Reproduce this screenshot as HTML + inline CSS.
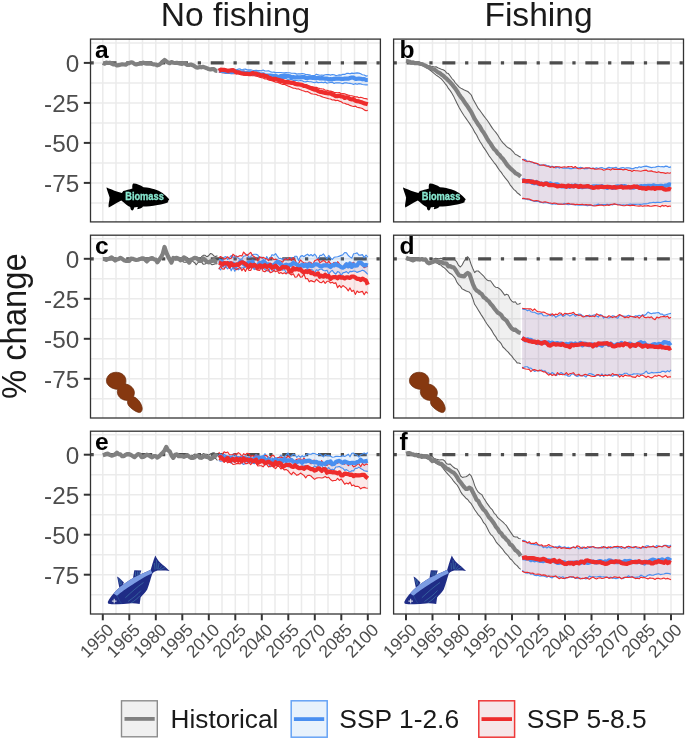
<!DOCTYPE html>
<html><head><meta charset="utf-8"><style>
html,body{margin:0;padding:0;background:#fff;}
svg{display:block;}
svg{will-change:transform;}
</style></head><body>
<svg width="685" height="739" viewBox="0 0 685 739">
<rect width="685" height="739" fill="#fff"/>
<rect x="90.5" y="39.1" width="289.9" height="182.8" fill="#fff"/>
<path d="M102.8 39.1V221.9M116 39.1V221.9M129.3 39.1V221.9M142.5 39.1V221.9M155.8 39.1V221.9M169 39.1V221.9M182.3 39.1V221.9M195.5 39.1V221.9M208.8 39.1V221.9M222 39.1V221.9M235.3 39.1V221.9M248.5 39.1V221.9M261.8 39.1V221.9M275 39.1V221.9M288.3 39.1V221.9M301.5 39.1V221.9M314.8 39.1V221.9M328 39.1V221.9M341.3 39.1V221.9M354.5 39.1V221.9M367.8 39.1V221.9M90.5 202.9H380.4M90.5 182.9H380.4M90.5 162.9H380.4M90.5 142.9H380.4M90.5 122.9H380.4M90.5 102.9H380.4M90.5 82.9H380.4M90.5 62.9H380.4M90.5 42.9H380.4" stroke="#EBEBEB" stroke-width="1.5" fill="none"/>
<path d="M90.5 62.9H380.4" stroke="#4D4D4D" stroke-width="3.25" stroke-dasharray="3.25 9.75 13 9.75" fill="none"/>
<path d="M102.8 62.9 L104.5 63.7 L106.3 62.6 L108 63 L109.8 62.7 L111.6 63.6 L113.3 64.4 L115.1 64.5 L116.9 65.5 L118.6 65.1 L120.4 64.7 L122.2 64.3 L123.9 64.5 L125.7 64.7 L127.4 63.5 L129.2 63.1 L131 62.3 L132.7 62.6 L134.5 63.9 L136.3 64.4 L138 64 L139.8 63.6 L141.6 63.7 L143.3 62.6 L145.1 63.4 L146.8 63.6 L148.6 63.5 L150.4 63.6 L152.1 63.9 L153.9 64.4 L155.7 64.5 L157.4 65.3 L159.2 64.8 L161 63.2 L162.7 61.5 L164.5 60 L166.3 61.3 L168 62.6 L169.8 63.2 L171.5 62.1 L173.3 62.7 L175.1 63 L176.8 62.8 L178.6 63.2 L180.4 63.6 L182.1 63.8 L183.9 63 L185.7 63.9 L187.4 65 L189.2 65 L190.9 64.5 L192.7 65.2 L194.5 66.2 L196.2 67.4 L198 67.6 L199.8 67 L201.5 67.3 L203.3 66.8 L205.1 67.6 L206.8 68.2 L208.6 69 L210.4 69.5 L212.1 69.1 L213.9 69.2 L215.6 70.6 L217.4 70.8" fill="none" stroke="#808080" stroke-width="4.2" stroke-linejoin="round" stroke-opacity="1"/>
<path d="M218.8 69.9 L220.6 70.1 L222.4 69 L224.1 69.4 L225.9 69.4 L227.7 70.5 L229.5 70.9 L231.2 70.4 L233 71.5 L234.8 70.8 L236.6 71.4 L238.3 71.5 L240.1 71.1 L241.9 71.8 L243.6 71.2 L245.4 71.6 L247.2 71.8 L249 72 L250.7 72.6 L252.5 71.8 L254.3 73.1 L256.1 72.3 L257.8 73.1 L259.6 73.7 L261.4 73.9 L263.1 74.5 L264.9 75 L266.7 75.2 L268.5 75.7 L270.2 76.4 L272 76.4 L273.8 77.4 L275.6 78.6 L277.3 79 L279.1 78.4 L280.9 79 L282.7 80.3 L284.4 80.2 L286.2 80.4 L288 80.7 L289.7 81.6 L291.5 81.2 L293.3 83 L295.1 82.1 L296.8 82.5 L298.6 83.2 L300.4 83.8 L302.2 84.5 L303.9 84.4 L305.7 84.8 L307.5 85.4 L309.2 86.3 L311 86.7 L312.8 86.7 L314.6 87.4 L316.3 87.4 L318.1 88.1 L319.9 88.5 L321.7 88.8 L323.4 89 L325.2 90.2 L327 90.3 L328.7 90.9 L330.5 91.1 L332.3 91.6 L334.1 92.4 L335.8 92.5 L337.6 92.8 L339.4 92.6 L341.2 93.8 L342.9 93.6 L344.7 93.9 L346.5 94.5 L348.3 95.1 L350 95.5 L351.8 95.8 L353.6 96.3 L355.3 96.9 L357.1 96.7 L358.9 97.7 L360.7 97.3 L362.4 97.7 L364.2 98.5 L366 98.6 L367.8 99.2 L367.8 110.4 L366 110.7 L364.2 109.9 L362.4 108.5 L360.7 108 L358.9 107.6 L357.1 107.3 L355.3 106.1 L353.6 106.5 L351.8 106 L350 105.4 L348.3 104.4 L346.5 104.1 L344.7 103.3 L342.9 103 L341.2 101.7 L339.4 101.1 L337.6 100.3 L335.8 100.6 L334.1 99.9 L332.3 100 L330.5 99 L328.7 98.8 L327 98.2 L325.2 97.7 L323.4 97.2 L321.7 96.6 L319.9 95.8 L318.1 95.5 L316.3 94.5 L314.6 94.2 L312.8 94 L311 93.6 L309.2 92.4 L307.5 91.6 L305.7 91.8 L303.9 91 L302.2 90.5 L300.4 89.8 L298.6 88.9 L296.8 89 L295.1 88.3 L293.3 88.1 L291.5 87.5 L289.7 86.6 L288 86 L286.2 85.2 L284.4 84.3 L282.7 84.4 L280.9 83.7 L279.1 82.9 L277.3 82.2 L275.6 82.1 L273.8 81.4 L272 80.4 L270.2 80.4 L268.5 79.9 L266.7 79 L264.9 78.9 L263.1 77.9 L261.4 77.7 L259.6 77.3 L257.8 76.4 L256.1 76.1 L254.3 75.6 L252.5 75.8 L250.7 75.1 L249 74.9 L247.2 74.6 L245.4 74.7 L243.6 75.2 L241.9 74.3 L240.1 74.2 L238.3 73 L236.6 73.2 L234.8 73.6 L233 73.7 L231.2 73.3 L229.5 73 L227.7 73.1 L225.9 73.3 L224.1 73 L222.4 72.8 L220.6 72.2 L218.8 72.3Z" fill="#EE2C2C" fill-opacity="0.1" stroke="none"/>
<path d="M218.8 69.4 L220.6 68.9 L222.4 69.4 L224.1 68.7 L225.9 69.8 L227.7 69.8 L229.5 69.9 L231.2 68.9 L233 69.1 L234.8 69.6 L236.6 69.9 L238.3 69 L240.1 68.9 L241.9 70 L243.6 69.3 L245.4 69.1 L247.2 69.9 L249 69.8 L250.7 69.8 L252.5 70.3 L254.3 70.6 L256.1 70.2 L257.8 70.5 L259.6 70.6 L261.4 70.7 L263.1 70 L264.9 71 L266.7 71 L268.5 70.8 L270.2 71.6 L272 72.2 L273.8 72.1 L275.6 72.6 L277.3 72.5 L279.1 72.5 L280.9 72.5 L282.7 72.8 L284.4 72.9 L286.2 72.6 L288 72.7 L289.7 72.7 L291.5 73.3 L293.3 73.2 L295.1 73.4 L296.8 74.1 L298.6 73.7 L300.4 73.9 L302.2 73.5 L303.9 73.7 L305.7 74.6 L307.5 74.6 L309.2 74.8 L311 75.3 L312.8 75.5 L314.6 75.6 L316.3 74.2 L318.1 74.7 L319.9 75.3 L321.7 75 L323.4 75.4 L325.2 74.8 L327 74.6 L328.7 74.5 L330.5 75.1 L332.3 74.5 L334.1 74.7 L335.8 75.6 L337.6 75.3 L339.4 74.9 L341.2 75.1 L342.9 74.2 L344.7 74.4 L346.5 73.4 L348.3 73.3 L350 73.8 L351.8 73.1 L353.6 73.4 L355.3 73.1 L357.1 72.9 L358.9 73.1 L360.7 73.8 L362.4 74.7 L364.2 75 L366 76.1 L367.8 75.8 L367.8 84.9 L366 84.9 L364.2 84.8 L362.4 84.5 L360.7 83.9 L358.9 83.6 L357.1 84.3 L355.3 83.6 L353.6 84.4 L351.8 83.8 L350 83.4 L348.3 83.3 L346.5 82.9 L344.7 82.8 L342.9 83.6 L341.2 83.3 L339.4 82.8 L337.6 82.8 L335.8 82.8 L334.1 83.5 L332.3 82.3 L330.5 82.5 L328.7 82.8 L327 83.2 L325.2 82.1 L323.4 82.8 L321.7 82.2 L319.9 82.5 L318.1 82.6 L316.3 81.9 L314.6 82.7 L312.8 82.2 L311 81.8 L309.2 81.7 L307.5 81.3 L305.7 81.9 L303.9 81.8 L302.2 80.7 L300.4 80.5 L298.6 81 L296.8 80.5 L295.1 80.4 L293.3 80.6 L291.5 79.3 L289.7 79.8 L288 79.5 L286.2 78.5 L284.4 78.5 L282.7 78.1 L280.9 78.5 L279.1 77.8 L277.3 77.8 L275.6 77.4 L273.8 76.4 L272 76.7 L270.2 76.1 L268.5 76.2 L266.7 76 L264.9 76.1 L263.1 75.6 L261.4 75.8 L259.6 75.2 L257.8 74.7 L256.1 74.6 L254.3 74.7 L252.5 74.9 L250.7 74 L249 74.4 L247.2 74.5 L245.4 74.4 L243.6 74 L241.9 73.6 L240.1 73.7 L238.3 73.4 L236.6 73.2 L234.8 73.2 L233 73.5 L231.2 73 L229.5 73.3 L227.7 73.1 L225.9 72.7 L224.1 72.1 L222.4 71.8 L220.6 72.2 L218.8 72.1Z" fill="#4A8FF0" fill-opacity="0.13" stroke="none"/>
<path d="M218.8 69.4 L220.6 68.9 L222.4 69.4 L224.1 68.7 L225.9 69.8 L227.7 69.8 L229.5 69.9 L231.2 68.9 L233 69.1 L234.8 69.6 L236.6 69.9 L238.3 69 L240.1 68.9 L241.9 70 L243.6 69.3 L245.4 69.1 L247.2 69.9 L249 69.8 L250.7 69.8 L252.5 70.3 L254.3 70.6 L256.1 70.2 L257.8 70.5 L259.6 70.6 L261.4 70.7 L263.1 70 L264.9 71 L266.7 71 L268.5 70.8 L270.2 71.6 L272 72.2 L273.8 72.1 L275.6 72.6 L277.3 72.5 L279.1 72.5 L280.9 72.5 L282.7 72.8 L284.4 72.9 L286.2 72.6 L288 72.7 L289.7 72.7 L291.5 73.3 L293.3 73.2 L295.1 73.4 L296.8 74.1 L298.6 73.7 L300.4 73.9 L302.2 73.5 L303.9 73.7 L305.7 74.6 L307.5 74.6 L309.2 74.8 L311 75.3 L312.8 75.5 L314.6 75.6 L316.3 74.2 L318.1 74.7 L319.9 75.3 L321.7 75 L323.4 75.4 L325.2 74.8 L327 74.6 L328.7 74.5 L330.5 75.1 L332.3 74.5 L334.1 74.7 L335.8 75.6 L337.6 75.3 L339.4 74.9 L341.2 75.1 L342.9 74.2 L344.7 74.4 L346.5 73.4 L348.3 73.3 L350 73.8 L351.8 73.1 L353.6 73.4 L355.3 73.1 L357.1 72.9 L358.9 73.1 L360.7 73.8 L362.4 74.7 L364.2 75 L366 76.1 L367.8 75.8" fill="none" stroke="#4A8FF0" stroke-width="1.15" stroke-linejoin="round" stroke-opacity="1"/>
<path d="M218.8 72.1 L220.6 72.2 L222.4 71.8 L224.1 72.1 L225.9 72.7 L227.7 73.1 L229.5 73.3 L231.2 73 L233 73.5 L234.8 73.2 L236.6 73.2 L238.3 73.4 L240.1 73.7 L241.9 73.6 L243.6 74 L245.4 74.4 L247.2 74.5 L249 74.4 L250.7 74 L252.5 74.9 L254.3 74.7 L256.1 74.6 L257.8 74.7 L259.6 75.2 L261.4 75.8 L263.1 75.6 L264.9 76.1 L266.7 76 L268.5 76.2 L270.2 76.1 L272 76.7 L273.8 76.4 L275.6 77.4 L277.3 77.8 L279.1 77.8 L280.9 78.5 L282.7 78.1 L284.4 78.5 L286.2 78.5 L288 79.5 L289.7 79.8 L291.5 79.3 L293.3 80.6 L295.1 80.4 L296.8 80.5 L298.6 81 L300.4 80.5 L302.2 80.7 L303.9 81.8 L305.7 81.9 L307.5 81.3 L309.2 81.7 L311 81.8 L312.8 82.2 L314.6 82.7 L316.3 81.9 L318.1 82.6 L319.9 82.5 L321.7 82.2 L323.4 82.8 L325.2 82.1 L327 83.2 L328.7 82.8 L330.5 82.5 L332.3 82.3 L334.1 83.5 L335.8 82.8 L337.6 82.8 L339.4 82.8 L341.2 83.3 L342.9 83.6 L344.7 82.8 L346.5 82.9 L348.3 83.3 L350 83.4 L351.8 83.8 L353.6 84.4 L355.3 83.6 L357.1 84.3 L358.9 83.6 L360.7 83.9 L362.4 84.5 L364.2 84.8 L366 84.9 L367.8 84.9" fill="none" stroke="#4A8FF0" stroke-width="1.15" stroke-linejoin="round" stroke-opacity="1"/>
<path d="M218.8 69.9 L220.6 70.1 L222.4 69 L224.1 69.4 L225.9 69.4 L227.7 70.5 L229.5 70.9 L231.2 70.4 L233 71.5 L234.8 70.8 L236.6 71.4 L238.3 71.5 L240.1 71.1 L241.9 71.8 L243.6 71.2 L245.4 71.6 L247.2 71.8 L249 72 L250.7 72.6 L252.5 71.8 L254.3 73.1 L256.1 72.3 L257.8 73.1 L259.6 73.7 L261.4 73.9 L263.1 74.5 L264.9 75 L266.7 75.2 L268.5 75.7 L270.2 76.4 L272 76.4 L273.8 77.4 L275.6 78.6 L277.3 79 L279.1 78.4 L280.9 79 L282.7 80.3 L284.4 80.2 L286.2 80.4 L288 80.7 L289.7 81.6 L291.5 81.2 L293.3 83 L295.1 82.1 L296.8 82.5 L298.6 83.2 L300.4 83.8 L302.2 84.5 L303.9 84.4 L305.7 84.8 L307.5 85.4 L309.2 86.3 L311 86.7 L312.8 86.7 L314.6 87.4 L316.3 87.4 L318.1 88.1 L319.9 88.5 L321.7 88.8 L323.4 89 L325.2 90.2 L327 90.3 L328.7 90.9 L330.5 91.1 L332.3 91.6 L334.1 92.4 L335.8 92.5 L337.6 92.8 L339.4 92.6 L341.2 93.8 L342.9 93.6 L344.7 93.9 L346.5 94.5 L348.3 95.1 L350 95.5 L351.8 95.8 L353.6 96.3 L355.3 96.9 L357.1 96.7 L358.9 97.7 L360.7 97.3 L362.4 97.7 L364.2 98.5 L366 98.6 L367.8 99.2" fill="none" stroke="#EE2C2C" stroke-width="1.15" stroke-linejoin="round" stroke-opacity="1"/>
<path d="M218.8 72.3 L220.6 72.2 L222.4 72.8 L224.1 73 L225.9 73.3 L227.7 73.1 L229.5 73 L231.2 73.3 L233 73.7 L234.8 73.6 L236.6 73.2 L238.3 73 L240.1 74.2 L241.9 74.3 L243.6 75.2 L245.4 74.7 L247.2 74.6 L249 74.9 L250.7 75.1 L252.5 75.8 L254.3 75.6 L256.1 76.1 L257.8 76.4 L259.6 77.3 L261.4 77.7 L263.1 77.9 L264.9 78.9 L266.7 79 L268.5 79.9 L270.2 80.4 L272 80.4 L273.8 81.4 L275.6 82.1 L277.3 82.2 L279.1 82.9 L280.9 83.7 L282.7 84.4 L284.4 84.3 L286.2 85.2 L288 86 L289.7 86.6 L291.5 87.5 L293.3 88.1 L295.1 88.3 L296.8 89 L298.6 88.9 L300.4 89.8 L302.2 90.5 L303.9 91 L305.7 91.8 L307.5 91.6 L309.2 92.4 L311 93.6 L312.8 94 L314.6 94.2 L316.3 94.5 L318.1 95.5 L319.9 95.8 L321.7 96.6 L323.4 97.2 L325.2 97.7 L327 98.2 L328.7 98.8 L330.5 99 L332.3 100 L334.1 99.9 L335.8 100.6 L337.6 100.3 L339.4 101.1 L341.2 101.7 L342.9 103 L344.7 103.3 L346.5 104.1 L348.3 104.4 L350 105.4 L351.8 106 L353.6 106.5 L355.3 106.1 L357.1 107.3 L358.9 107.6 L360.7 108 L362.4 108.5 L364.2 109.9 L366 110.7 L367.8 110.4" fill="none" stroke="#EE2C2C" stroke-width="1.15" stroke-linejoin="round" stroke-opacity="1"/>
<path d="M218.8 70.5 L220.6 70.2 L222.4 71.2 L224.1 70.9 L225.9 71.8 L227.7 71.6 L229.5 71.3 L231.2 72.3 L233 72 L234.8 71.5 L236.6 71.5 L238.3 72.1 L240.1 72.5 L241.9 72.6 L243.6 72.4 L245.4 73.2 L247.2 73.4 L249 72.5 L250.7 72.8 L252.5 73.4 L254.3 73.3 L256.1 73.6 L257.8 73.3 L259.6 74.5 L261.4 74.5 L263.1 74.4 L264.9 75.4 L266.7 75.7 L268.5 75.5 L270.2 75.5 L272 75.8 L273.8 76.3 L275.6 75.9 L277.3 76.5 L279.1 76.8 L280.9 76 L282.7 75.8 L284.4 75.7 L286.2 75.8 L288 76 L289.7 76.4 L291.5 77.5 L293.3 77.1 L295.1 77.5 L296.8 77.2 L298.6 77.3 L300.4 77.3 L302.2 77.1 L303.9 77 L305.7 77.9 L307.5 78.2 L309.2 77.4 L311 77.6 L312.8 77.8 L314.6 77.9 L316.3 78.3 L318.1 77.8 L319.9 78.4 L321.7 78.1 L323.4 78.4 L325.2 78.6 L327 78.6 L328.7 79.4 L330.5 79.2 L332.3 79.3 L334.1 78.8 L335.8 78.6 L337.6 78.6 L339.4 78.7 L341.2 78.8 L342.9 79 L344.7 78.6 L346.5 78.7 L348.3 78.7 L350 78.1 L351.8 77.5 L353.6 77.7 L355.3 78.8 L357.1 78.8 L358.9 78.5 L360.7 78.8 L362.4 79.3 L364.2 79 L366 80 L367.8 80" fill="none" stroke="#4A8FF0" stroke-width="4.2" stroke-linejoin="round" stroke-opacity="1"/>
<path d="M218.8 70.8 L220.6 69.7 L222.4 69.8 L224.1 69.9 L225.9 70.2 L227.7 70.9 L229.5 70.5 L231.2 70.3 L233 70.1 L234.8 71.2 L236.6 72.6 L238.3 72.3 L240.1 73 L241.9 73.4 L243.6 73.5 L245.4 74 L247.2 73.8 L249 74.1 L250.7 74.1 L252.5 73 L254.3 73.7 L256.1 73.7 L257.8 74.3 L259.6 74.7 L261.4 75.6 L263.1 75.2 L264.9 76.2 L266.7 76.2 L268.5 77.7 L270.2 78 L272 79.2 L273.8 78.9 L275.6 78.9 L277.3 79.6 L279.1 80 L280.9 81.1 L282.7 80.8 L284.4 82.1 L286.2 82.5 L288 82.1 L289.7 82.5 L291.5 83 L293.3 82.9 L295.1 83.9 L296.8 84.3 L298.6 84.3 L300.4 84.6 L302.2 84.9 L303.9 86 L305.7 86 L307.5 86.8 L309.2 87.5 L311 88.2 L312.8 89.1 L314.6 89.7 L316.3 89.9 L318.1 91.1 L319.9 91.8 L321.7 91.9 L323.4 92.5 L325.2 92.9 L327 93.2 L328.7 93.5 L330.5 93.4 L332.3 94.5 L334.1 95.1 L335.8 96.1 L337.6 96.1 L339.4 95.8 L341.2 96.5 L342.9 96.6 L344.7 98 L346.5 97.3 L348.3 97.8 L350 98.9 L351.8 99.4 L353.6 99.2 L355.3 100.8 L357.1 101.2 L358.9 101.4 L360.7 102.1 L362.4 102.6 L364.2 103.4 L366 103.7 L367.8 104.3" fill="none" stroke="#EE2C2C" stroke-width="4.2" stroke-linejoin="round" stroke-opacity="1"/>
<rect x="393.6" y="39.1" width="289.9" height="182.8" fill="#fff"/>
<path d="M406 39.1V221.9M419.3 39.1V221.9M432.5 39.1V221.9M445.8 39.1V221.9M459 39.1V221.9M472.3 39.1V221.9M485.5 39.1V221.9M498.8 39.1V221.9M512 39.1V221.9M525.3 39.1V221.9M538.5 39.1V221.9M551.8 39.1V221.9M565 39.1V221.9M578.3 39.1V221.9M591.5 39.1V221.9M604.8 39.1V221.9M618 39.1V221.9M631.3 39.1V221.9M644.5 39.1V221.9M657.8 39.1V221.9M671 39.1V221.9M393.6 202.9H683.5M393.6 182.9H683.5M393.6 162.9H683.5M393.6 142.9H683.5M393.6 122.9H683.5M393.6 102.9H683.5M393.6 82.9H683.5M393.6 62.9H683.5M393.6 42.9H683.5" stroke="#EBEBEB" stroke-width="1.5" fill="none"/>
<path d="M393.6 62.9H683.5" stroke="#4D4D4D" stroke-width="3.25" stroke-dasharray="3.25 9.75 13 9.75" fill="none"/>
<path d="M406.1 61.1 L407.9 61.9 L409.6 62.1 L411.4 62.2 L413.1 62.3 L414.9 63.3 L416.7 63.2 L418.4 63.9 L420.2 64 L422 65 L423.7 65 L425.5 65.3 L427.2 65.5 L429 65.8 L430.8 66.2 L432.5 66.4 L434.3 67 L436.1 66.8 L437.8 67.8 L439.6 68.4 L441.3 69.3 L443.1 69.7 L444.9 70.7 L446.6 72.9 L448.4 73.6 L450.2 76 L451.9 78.5 L453.7 80.3 L455.4 83 L457.2 84.8 L459 86.8 L460.7 88.1 L462.5 89 L464.3 90.1 L466 90.7 L467.8 91.5 L469.5 93.1 L471.3 95 L473.1 99.2 L474.8 102.3 L476.6 105.5 L478.4 108.7 L480.1 110.7 L481.9 113.2 L483.6 115.6 L485.4 118 L487.2 120.3 L488.9 122.8 L490.7 125.6 L492.5 128.4 L494.2 130.5 L496 132.6 L497.7 135 L499.5 138 L501.3 140.7 L503 142.9 L504.8 144.7 L506.6 146.6 L508.3 147.7 L510.1 148.7 L511.8 150.3 L513.6 152.2 L515.4 154.5 L517.1 155.1 L518.9 156.3 L520.7 157.3 L520.7 195.7 L518.9 194 L517.1 192.7 L515.4 190.7 L513.6 189.3 L511.8 186.9 L510.1 184.8 L508.3 181.7 L506.6 179.6 L504.8 177.4 L503 175 L501.3 172.4 L499.5 170.3 L497.7 167.6 L496 164.9 L494.2 162.8 L492.5 160.5 L490.7 158 L488.9 155.6 L487.2 152.7 L485.4 149.9 L483.6 147.4 L481.9 144.5 L480.1 141.8 L478.4 138.8 L476.6 135 L474.8 132.4 L473.1 129 L471.3 126.3 L469.5 123.4 L467.8 121 L466 118.4 L464.3 116 L462.5 113.2 L460.7 110.3 L459 107.2 L457.2 103.7 L455.4 100.1 L453.7 96.4 L451.9 93.3 L450.2 90.6 L448.4 88.4 L446.6 85.3 L444.9 83.3 L443.1 81 L441.3 78.9 L439.6 77.6 L437.8 76.2 L436.1 75.1 L434.3 73.7 L432.5 72.2 L430.8 70.7 L429 69.4 L427.2 68.4 L425.5 67.3 L423.7 66 L422 65.2 L420.2 64.4 L418.4 64 L416.7 63.2 L414.9 62.9 L413.1 62.8 L411.4 62.3 L409.6 61.9 L407.9 62 L406.1 61.7Z" fill="#808080" fill-opacity="0.12" stroke="none"/>
<path d="M406.1 61.1 L407.9 61.9 L409.6 62.1 L411.4 62.2 L413.1 62.3 L414.9 63.3 L416.7 63.2 L418.4 63.9 L420.2 64 L422 65 L423.7 65 L425.5 65.3 L427.2 65.5 L429 65.8 L430.8 66.2 L432.5 66.4 L434.3 67 L436.1 66.8 L437.8 67.8 L439.6 68.4 L441.3 69.3 L443.1 69.7 L444.9 70.7 L446.6 72.9 L448.4 73.6 L450.2 76 L451.9 78.5 L453.7 80.3 L455.4 83 L457.2 84.8 L459 86.8 L460.7 88.1 L462.5 89 L464.3 90.1 L466 90.7 L467.8 91.5 L469.5 93.1 L471.3 95 L473.1 99.2 L474.8 102.3 L476.6 105.5 L478.4 108.7 L480.1 110.7 L481.9 113.2 L483.6 115.6 L485.4 118 L487.2 120.3 L488.9 122.8 L490.7 125.6 L492.5 128.4 L494.2 130.5 L496 132.6 L497.7 135 L499.5 138 L501.3 140.7 L503 142.9 L504.8 144.7 L506.6 146.6 L508.3 147.7 L510.1 148.7 L511.8 150.3 L513.6 152.2 L515.4 154.5 L517.1 155.1 L518.9 156.3 L520.7 157.3" fill="none" stroke="#5E5E5E" stroke-width="1.05" stroke-linejoin="round" stroke-opacity="1"/>
<path d="M406.1 61.7 L407.9 62 L409.6 61.9 L411.4 62.3 L413.1 62.8 L414.9 62.9 L416.7 63.2 L418.4 64 L420.2 64.4 L422 65.2 L423.7 66 L425.5 67.3 L427.2 68.4 L429 69.4 L430.8 70.7 L432.5 72.2 L434.3 73.7 L436.1 75.1 L437.8 76.2 L439.6 77.6 L441.3 78.9 L443.1 81 L444.9 83.3 L446.6 85.3 L448.4 88.4 L450.2 90.6 L451.9 93.3 L453.7 96.4 L455.4 100.1 L457.2 103.7 L459 107.2 L460.7 110.3 L462.5 113.2 L464.3 116 L466 118.4 L467.8 121 L469.5 123.4 L471.3 126.3 L473.1 129 L474.8 132.4 L476.6 135 L478.4 138.8 L480.1 141.8 L481.9 144.5 L483.6 147.4 L485.4 149.9 L487.2 152.7 L488.9 155.6 L490.7 158 L492.5 160.5 L494.2 162.8 L496 164.9 L497.7 167.6 L499.5 170.3 L501.3 172.4 L503 175 L504.8 177.4 L506.6 179.6 L508.3 181.7 L510.1 184.8 L511.8 186.9 L513.6 189.3 L515.4 190.7 L517.1 192.7 L518.9 194 L520.7 195.7" fill="none" stroke="#5E5E5E" stroke-width="1.05" stroke-linejoin="round" stroke-opacity="1"/>
<path d="M406 60.9 L407.8 61.2 L409.5 61.7 L411.3 62.7 L413.1 62.4 L414.8 63.2 L416.6 63.1 L418.3 63.2 L420.1 63.8 L421.9 64 L423.6 64.9 L425.4 65.7 L427.2 66.6 L428.9 67.3 L430.7 67.7 L432.5 69.3 L434.2 69.5 L436 70.7 L437.8 72.3 L439.5 72.9 L441.3 74.4 L443 75.5 L444.8 77.3 L446.6 78.7 L448.3 80.4 L450.1 82.3 L451.9 84.2 L453.6 86.4 L455.4 88.6 L457.2 91.4 L458.9 94.2 L460.7 96.8 L462.4 98.8 L464.2 101.6 L466 104.3 L467.7 106.6 L469.5 109.4 L471.3 112.1 L473 115.6 L474.8 119.2 L476.6 121.9 L478.3 124.7 L480.1 126.9 L481.9 130.3 L483.6 132.5 L485.4 135.5 L487.1 138.5 L488.9 141.5 L490.7 143.8 L492.4 146.6 L494.2 149.2 L496 150.8 L497.7 153.4 L499.5 154.8 L501.3 157.4 L503 158.9 L504.8 161.4 L506.5 164.1 L508.3 166.3 L510.1 168.1 L511.8 169.6 L513.6 171.2 L515.4 173.2 L517.1 173.9 L518.9 175.1 L520.7 176.6" fill="none" stroke="#808080" stroke-width="4.2" stroke-linejoin="round" stroke-opacity="1"/>
<path d="M522.1 159.3 L523.8 160 L525.6 161.1 L527.4 161.2 L529.2 161.3 L530.9 161.8 L532.7 162.3 L534.5 162.9 L536.3 163.4 L538 163.8 L539.8 165.1 L541.6 165.2 L543.3 164.9 L545.1 165.6 L546.9 166.2 L548.7 166.4 L550.4 167.4 L552.2 166.5 L554 167.7 L555.8 166.6 L557.5 166.7 L559.3 166.7 L561.1 167.6 L562.9 167 L564.6 166.8 L566.4 167.2 L568.2 166.6 L569.9 166.8 L571.7 166.6 L573.5 167.8 L575.3 166.5 L577 168.1 L578.8 168.7 L580.6 168.6 L582.4 168 L584.1 168.3 L585.9 167.8 L587.7 167.8 L589.4 168 L591.2 168.7 L593 168.4 L594.8 169.1 L596.5 169.2 L598.3 168.9 L600.1 169 L601.9 169.3 L603.6 170.2 L605.4 169.8 L607.2 169 L608.9 169.2 L610.7 170.1 L612.5 168.6 L614.3 169.4 L616 169.1 L617.8 169.5 L619.6 169.4 L621.4 169.3 L623.1 169.9 L624.9 169.4 L626.7 169.5 L628.5 170.4 L630.2 170.3 L632 171.4 L633.8 170.3 L635.5 170.7 L637.3 170.8 L639.1 171 L640.9 171.2 L642.6 170.7 L644.4 170.4 L646.2 170.1 L648 171.3 L649.7 171.1 L651.5 170.9 L653.3 171.7 L655 171.9 L656.8 172.5 L658.6 171.7 L660.4 172.6 L662.1 172.5 L663.9 172.9 L665.7 173.4 L667.5 172.8 L669.2 173.3 L671 172.8 L671 206.3 L669.2 206.1 L667.5 206.6 L665.7 205.5 L663.9 206.1 L662.1 205.4 L660.4 206.8 L658.6 206.3 L656.8 205.8 L655 205.6 L653.3 205.9 L651.5 206.3 L649.7 206.1 L648 205.6 L646.2 206 L644.4 205.9 L642.6 206.3 L640.9 205.7 L639.1 206.1 L637.3 206 L635.5 205.8 L633.8 205.4 L632 205.1 L630.2 205.6 L628.5 205.5 L626.7 205 L624.9 205.7 L623.1 205.7 L621.4 205.2 L619.6 205 L617.8 205 L616 204.2 L614.3 203.9 L612.5 204.2 L610.7 204.6 L608.9 205.5 L607.2 204.9 L605.4 205.5 L603.6 205.7 L601.9 205 L600.1 205.1 L598.3 205.4 L596.5 205.6 L594.8 206 L593 205.8 L591.2 204.9 L589.4 204.8 L587.7 204.9 L585.9 204.5 L584.1 205 L582.4 204.3 L580.6 204.5 L578.8 204.5 L577 204.3 L575.3 204.6 L573.5 204.1 L571.7 204.1 L569.9 203.8 L568.2 203.4 L566.4 203.7 L564.6 204.2 L562.9 204.2 L561.1 204 L559.3 204.1 L557.5 204.1 L555.8 203.2 L554 203.1 L552.2 203.5 L550.4 203 L548.7 202.8 L546.9 202.2 L545.1 201.8 L543.3 202.1 L541.6 202.2 L539.8 201.5 L538 200.7 L536.3 200.5 L534.5 200.9 L532.7 200.6 L530.9 199.7 L529.2 199.1 L527.4 198.9 L525.6 199 L523.8 198.2 L522.1 198.6Z" fill="#EE2C2C" fill-opacity="0.1" stroke="none"/>
<path d="M522.1 159.9 L523.8 159.4 L525.6 159.6 L527.4 161.7 L529.2 161.3 L530.9 161.9 L532.7 162.2 L534.5 163.5 L536.3 163.2 L538 164.9 L539.8 165.1 L541.6 164.8 L543.3 165.3 L545.1 164.7 L546.9 165.6 L548.7 165.9 L550.4 166.6 L552.2 166.4 L554 166.7 L555.8 168 L557.5 166.9 L559.3 168.1 L561.1 167.3 L562.9 168.2 L564.6 167.9 L566.4 168.3 L568.2 167.9 L569.9 168.6 L571.7 168.6 L573.5 168.1 L575.3 168.2 L577 167.9 L578.8 167.9 L580.6 167.4 L582.4 167.7 L584.1 168.9 L585.9 168.4 L587.7 168.6 L589.4 167.8 L591.2 168.5 L593 168.1 L594.8 168.6 L596.5 167.9 L598.3 168.5 L600.1 167.8 L601.9 167.5 L603.6 168.2 L605.4 168.7 L607.2 168.1 L608.9 167.4 L610.7 167.9 L612.5 167.9 L614.3 167.9 L616 167.2 L617.8 168.6 L619.6 168.4 L621.4 167.9 L623.1 167.5 L624.9 168.3 L626.7 167.7 L628.5 167.9 L630.2 168.1 L632 168.9 L633.8 168.4 L635.5 167.5 L637.3 167.9 L639.1 166.8 L640.9 167.4 L642.6 166.7 L644.4 166.4 L646.2 166.1 L648 166.6 L649.7 167.1 L651.5 167.6 L653.3 167.2 L655 167.3 L656.8 166.6 L658.6 166.2 L660.4 166.7 L662.1 166.6 L663.9 166.9 L665.7 166.1 L667.5 166.4 L669.2 167.4 L671 166.9 L671 201 L669.2 201.5 L667.5 201.5 L665.7 201.1 L663.9 201.5 L662.1 202 L660.4 202.5 L658.6 202.3 L656.8 202.4 L655 202.6 L653.3 202.3 L651.5 202.7 L649.7 202.9 L648 203.5 L646.2 203.9 L644.4 203.7 L642.6 204.1 L640.9 204.3 L639.1 204.3 L637.3 204.2 L635.5 204.4 L633.8 204.2 L632 204.4 L630.2 204 L628.5 204.6 L626.7 205 L624.9 205 L623.1 204.9 L621.4 205.2 L619.6 204.5 L617.8 204.2 L616 204.5 L614.3 204.1 L612.5 205 L610.7 204.4 L608.9 204.6 L607.2 204.3 L605.4 204.5 L603.6 204.6 L601.9 204.6 L600.1 204.7 L598.3 204.1 L596.5 204.7 L594.8 205.1 L593 205.6 L591.2 205.4 L589.4 205.1 L587.7 205.8 L585.9 205.4 L584.1 204.7 L582.4 205.1 L580.6 205 L578.8 205.2 L577 205 L575.3 205 L573.5 204.6 L571.7 204.4 L569.9 204.5 L568.2 204.7 L566.4 204.2 L564.6 203.4 L562.9 204.1 L561.1 204.3 L559.3 204.2 L557.5 203.8 L555.8 204.2 L554 203.7 L552.2 204.3 L550.4 203.7 L548.7 203.3 L546.9 202.7 L545.1 202.5 L543.3 203 L541.6 202.3 L539.8 202.3 L538 201.2 L536.3 201.5 L534.5 201.5 L532.7 200.7 L530.9 200.4 L529.2 199.8 L527.4 199.6 L525.6 198.7 L523.8 199 L522.1 198.4Z" fill="#4A8FF0" fill-opacity="0.13" stroke="none"/>
<path d="M522.1 159.9 L523.8 159.4 L525.6 159.6 L527.4 161.7 L529.2 161.3 L530.9 161.9 L532.7 162.2 L534.5 163.5 L536.3 163.2 L538 164.9 L539.8 165.1 L541.6 164.8 L543.3 165.3 L545.1 164.7 L546.9 165.6 L548.7 165.9 L550.4 166.6 L552.2 166.4 L554 166.7 L555.8 168 L557.5 166.9 L559.3 168.1 L561.1 167.3 L562.9 168.2 L564.6 167.9 L566.4 168.3 L568.2 167.9 L569.9 168.6 L571.7 168.6 L573.5 168.1 L575.3 168.2 L577 167.9 L578.8 167.9 L580.6 167.4 L582.4 167.7 L584.1 168.9 L585.9 168.4 L587.7 168.6 L589.4 167.8 L591.2 168.5 L593 168.1 L594.8 168.6 L596.5 167.9 L598.3 168.5 L600.1 167.8 L601.9 167.5 L603.6 168.2 L605.4 168.7 L607.2 168.1 L608.9 167.4 L610.7 167.9 L612.5 167.9 L614.3 167.9 L616 167.2 L617.8 168.6 L619.6 168.4 L621.4 167.9 L623.1 167.5 L624.9 168.3 L626.7 167.7 L628.5 167.9 L630.2 168.1 L632 168.9 L633.8 168.4 L635.5 167.5 L637.3 167.9 L639.1 166.8 L640.9 167.4 L642.6 166.7 L644.4 166.4 L646.2 166.1 L648 166.6 L649.7 167.1 L651.5 167.6 L653.3 167.2 L655 167.3 L656.8 166.6 L658.6 166.2 L660.4 166.7 L662.1 166.6 L663.9 166.9 L665.7 166.1 L667.5 166.4 L669.2 167.4 L671 166.9" fill="none" stroke="#4A8FF0" stroke-width="1.15" stroke-linejoin="round" stroke-opacity="1"/>
<path d="M522.1 198.4 L523.8 199 L525.6 198.7 L527.4 199.6 L529.2 199.8 L530.9 200.4 L532.7 200.7 L534.5 201.5 L536.3 201.5 L538 201.2 L539.8 202.3 L541.6 202.3 L543.3 203 L545.1 202.5 L546.9 202.7 L548.7 203.3 L550.4 203.7 L552.2 204.3 L554 203.7 L555.8 204.2 L557.5 203.8 L559.3 204.2 L561.1 204.3 L562.9 204.1 L564.6 203.4 L566.4 204.2 L568.2 204.7 L569.9 204.5 L571.7 204.4 L573.5 204.6 L575.3 205 L577 205 L578.8 205.2 L580.6 205 L582.4 205.1 L584.1 204.7 L585.9 205.4 L587.7 205.8 L589.4 205.1 L591.2 205.4 L593 205.6 L594.8 205.1 L596.5 204.7 L598.3 204.1 L600.1 204.7 L601.9 204.6 L603.6 204.6 L605.4 204.5 L607.2 204.3 L608.9 204.6 L610.7 204.4 L612.5 205 L614.3 204.1 L616 204.5 L617.8 204.2 L619.6 204.5 L621.4 205.2 L623.1 204.9 L624.9 205 L626.7 205 L628.5 204.6 L630.2 204 L632 204.4 L633.8 204.2 L635.5 204.4 L637.3 204.2 L639.1 204.3 L640.9 204.3 L642.6 204.1 L644.4 203.7 L646.2 203.9 L648 203.5 L649.7 202.9 L651.5 202.7 L653.3 202.3 L655 202.6 L656.8 202.4 L658.6 202.3 L660.4 202.5 L662.1 202 L663.9 201.5 L665.7 201.1 L667.5 201.5 L669.2 201.5 L671 201" fill="none" stroke="#4A8FF0" stroke-width="1.15" stroke-linejoin="round" stroke-opacity="1"/>
<path d="M522.1 159.3 L523.8 160 L525.6 161.1 L527.4 161.2 L529.2 161.3 L530.9 161.8 L532.7 162.3 L534.5 162.9 L536.3 163.4 L538 163.8 L539.8 165.1 L541.6 165.2 L543.3 164.9 L545.1 165.6 L546.9 166.2 L548.7 166.4 L550.4 167.4 L552.2 166.5 L554 167.7 L555.8 166.6 L557.5 166.7 L559.3 166.7 L561.1 167.6 L562.9 167 L564.6 166.8 L566.4 167.2 L568.2 166.6 L569.9 166.8 L571.7 166.6 L573.5 167.8 L575.3 166.5 L577 168.1 L578.8 168.7 L580.6 168.6 L582.4 168 L584.1 168.3 L585.9 167.8 L587.7 167.8 L589.4 168 L591.2 168.7 L593 168.4 L594.8 169.1 L596.5 169.2 L598.3 168.9 L600.1 169 L601.9 169.3 L603.6 170.2 L605.4 169.8 L607.2 169 L608.9 169.2 L610.7 170.1 L612.5 168.6 L614.3 169.4 L616 169.1 L617.8 169.5 L619.6 169.4 L621.4 169.3 L623.1 169.9 L624.9 169.4 L626.7 169.5 L628.5 170.4 L630.2 170.3 L632 171.4 L633.8 170.3 L635.5 170.7 L637.3 170.8 L639.1 171 L640.9 171.2 L642.6 170.7 L644.4 170.4 L646.2 170.1 L648 171.3 L649.7 171.1 L651.5 170.9 L653.3 171.7 L655 171.9 L656.8 172.5 L658.6 171.7 L660.4 172.6 L662.1 172.5 L663.9 172.9 L665.7 173.4 L667.5 172.8 L669.2 173.3 L671 172.8" fill="none" stroke="#EE2C2C" stroke-width="1.15" stroke-linejoin="round" stroke-opacity="1"/>
<path d="M522.1 198.6 L523.8 198.2 L525.6 199 L527.4 198.9 L529.2 199.1 L530.9 199.7 L532.7 200.6 L534.5 200.9 L536.3 200.5 L538 200.7 L539.8 201.5 L541.6 202.2 L543.3 202.1 L545.1 201.8 L546.9 202.2 L548.7 202.8 L550.4 203 L552.2 203.5 L554 203.1 L555.8 203.2 L557.5 204.1 L559.3 204.1 L561.1 204 L562.9 204.2 L564.6 204.2 L566.4 203.7 L568.2 203.4 L569.9 203.8 L571.7 204.1 L573.5 204.1 L575.3 204.6 L577 204.3 L578.8 204.5 L580.6 204.5 L582.4 204.3 L584.1 205 L585.9 204.5 L587.7 204.9 L589.4 204.8 L591.2 204.9 L593 205.8 L594.8 206 L596.5 205.6 L598.3 205.4 L600.1 205.1 L601.9 205 L603.6 205.7 L605.4 205.5 L607.2 204.9 L608.9 205.5 L610.7 204.6 L612.5 204.2 L614.3 203.9 L616 204.2 L617.8 205 L619.6 205 L621.4 205.2 L623.1 205.7 L624.9 205.7 L626.7 205 L628.5 205.5 L630.2 205.6 L632 205.1 L633.8 205.4 L635.5 205.8 L637.3 206 L639.1 206.1 L640.9 205.7 L642.6 206.3 L644.4 205.9 L646.2 206 L648 205.6 L649.7 206.1 L651.5 206.3 L653.3 205.9 L655 205.6 L656.8 205.8 L658.6 206.3 L660.4 206.8 L662.1 205.4 L663.9 206.1 L665.7 205.5 L667.5 206.6 L669.2 206.1 L671 206.3" fill="none" stroke="#EE2C2C" stroke-width="1.15" stroke-linejoin="round" stroke-opacity="1"/>
<path d="M522.1 180.7 L523.8 180.3 L525.6 181 L527.4 181.7 L529.2 181.1 L530.9 181.2 L532.7 182.9 L534.5 183.1 L536.3 182 L538 183.7 L539.8 183.6 L541.6 183.7 L543.3 184.2 L545.1 183.6 L546.9 183.4 L548.7 184.2 L550.4 183.4 L552.2 184.7 L554 184.8 L555.8 184.4 L557.5 184.4 L559.3 185.9 L561.1 186.3 L562.9 186.3 L564.6 186.4 L566.4 186.5 L568.2 185.9 L569.9 186.9 L571.7 185.6 L573.5 186.3 L575.3 185.4 L577 185.9 L578.8 186.2 L580.6 186.9 L582.4 187.1 L584.1 186.8 L585.9 186.7 L587.7 186.3 L589.4 186.8 L591.2 187.4 L593 186.4 L594.8 186.4 L596.5 186.3 L598.3 186.4 L600.1 186.8 L601.9 186.1 L603.6 186.9 L605.4 187.1 L607.2 187.9 L608.9 186.8 L610.7 187.1 L612.5 187.9 L614.3 187.7 L616 186.5 L617.8 186.3 L619.6 186.7 L621.4 186.2 L623.1 186.4 L624.9 186.2 L626.7 186.8 L628.5 187.2 L630.2 187.4 L632 187.5 L633.8 187.6 L635.5 186.9 L637.3 186.5 L639.1 187.3 L640.9 186.1 L642.6 186.4 L644.4 185.9 L646.2 186.2 L648 185.9 L649.7 185.9 L651.5 186.1 L653.3 185.3 L655 185.7 L656.8 186 L658.6 186.2 L660.4 185.8 L662.1 185.9 L663.9 186.4 L665.7 185.5 L667.5 185.4 L669.2 184.4 L671 184.7" fill="none" stroke="#4A8FF0" stroke-width="4.2" stroke-linejoin="round" stroke-opacity="1"/>
<path d="M522.1 180.8 L523.8 180.9 L525.6 181.3 L527.4 181 L529.2 181.2 L530.9 181.9 L532.7 181.5 L534.5 182.7 L536.3 182.3 L538 182.8 L539.8 184.1 L541.6 183.7 L543.3 184.8 L545.1 183.7 L546.9 183.7 L548.7 185.1 L550.4 185.1 L552.2 185.2 L554 185.2 L555.8 185.8 L557.5 186.4 L559.3 186 L561.1 185.7 L562.9 185.8 L564.6 186.1 L566.4 186.8 L568.2 185.5 L569.9 186.2 L571.7 186.2 L573.5 186.5 L575.3 185.8 L577 186.2 L578.8 187 L580.6 185.8 L582.4 186.7 L584.1 186.5 L585.9 186.4 L587.7 186.1 L589.4 186.7 L591.2 187 L593 187.8 L594.8 187.6 L596.5 186.9 L598.3 187.5 L600.1 186.8 L601.9 186.7 L603.6 187.2 L605.4 187 L607.2 186.7 L608.9 187.1 L610.7 187.2 L612.5 187.6 L614.3 187 L616 187.7 L617.8 187.3 L619.6 187 L621.4 186.6 L623.1 187.7 L624.9 187.3 L626.7 187.5 L628.5 186.9 L630.2 187.5 L632 187.1 L633.8 186.4 L635.5 186.8 L637.3 186.6 L639.1 187.9 L640.9 187.8 L642.6 188.5 L644.4 188.1 L646.2 189 L648 187.8 L649.7 188.2 L651.5 188.5 L653.3 187.8 L655 188.9 L656.8 188 L658.6 188.2 L660.4 188.2 L662.1 188.1 L663.9 189.3 L665.7 189.7 L667.5 189.5 L669.2 188.9 L671 189.7" fill="none" stroke="#EE2C2C" stroke-width="4.2" stroke-linejoin="round" stroke-opacity="1"/>
<rect x="90.5" y="235.2" width="289.9" height="182.8" fill="#fff"/>
<path d="M102.8 235.2V418M116 235.2V418M129.3 235.2V418M142.5 235.2V418M155.8 235.2V418M169 235.2V418M182.3 235.2V418M195.5 235.2V418M208.8 235.2V418M222 235.2V418M235.3 235.2V418M248.5 235.2V418M261.8 235.2V418M275 235.2V418M288.3 235.2V418M301.5 235.2V418M314.8 235.2V418M328 235.2V418M341.3 235.2V418M354.5 235.2V418M367.8 235.2V418M90.5 398.8H380.4M90.5 378.8H380.4M90.5 358.8H380.4M90.5 338.8H380.4M90.5 318.8H380.4M90.5 298.8H380.4M90.5 278.8H380.4M90.5 258.8H380.4M90.5 238.8H380.4" stroke="#EBEBEB" stroke-width="1.5" fill="none"/>
<path d="M90.5 258.8H380.4" stroke="#4D4D4D" stroke-width="3.25" stroke-dasharray="3.25 9.75 13 9.75" fill="none"/>
<path d="M182.3 260.5 L184 259.5 L185.8 257.5 L187.5 258.1 L189.3 258.8 L191 260.2 L192.8 259 L194.6 256.7 L196.3 258.2 L198.1 258.9 L199.8 259.2 L201.6 256.7 L203.3 255.3 L205.1 255.3 L206.9 256.8 L208.6 255.8 L210.4 253.5 L212.1 254 L213.9 255.9 L215.7 256.5 L217.4 255.8 L217.4 263.8 L215.7 263.8 L213.9 264.3 L212.1 264.8 L210.4 263.5 L208.6 261.9 L206.9 262.5 L205.1 264.1 L203.3 264.3 L201.6 262.2 L199.8 261.7 L198.1 262.5 L196.3 264.8 L194.6 262.7 L192.8 261.4 L191 260 L189.3 260.8 L187.5 262.1 L185.8 262.2 L184 262.3 L182.3 260.9Z" fill="#808080" fill-opacity="0.12" stroke="none"/>
<path d="M182.3 260.5 L184 259.5 L185.8 257.5 L187.5 258.1 L189.3 258.8 L191 260.2 L192.8 259 L194.6 256.7 L196.3 258.2 L198.1 258.9 L199.8 259.2 L201.6 256.7 L203.3 255.3 L205.1 255.3 L206.9 256.8 L208.6 255.8 L210.4 253.5 L212.1 254 L213.9 255.9 L215.7 256.5 L217.4 255.8" fill="none" stroke="#585858" stroke-width="1.05" stroke-linejoin="round" stroke-opacity="1"/>
<path d="M182.3 260.9 L184 262.3 L185.8 262.2 L187.5 262.1 L189.3 260.8 L191 260 L192.8 261.4 L194.6 262.7 L196.3 264.8 L198.1 262.5 L199.8 261.7 L201.6 262.2 L203.3 264.3 L205.1 264.1 L206.9 262.5 L208.6 261.9 L210.4 263.5 L212.1 264.8 L213.9 264.3 L215.7 263.8 L217.4 263.8" fill="none" stroke="#585858" stroke-width="1.05" stroke-linejoin="round" stroke-opacity="1"/>
<path d="M102.8 259 L104.5 259 L106.3 259.9 L108 259 L109.8 258.4 L111.6 257.4 L113.3 258.9 L115.1 260.5 L116.9 259.4 L118.6 259 L120.4 257.9 L122.2 258.9 L123.9 260.2 L125.7 260.9 L127.4 260.7 L129.2 260.9 L131 258.6 L132.7 258.8 L134.5 259.4 L136.3 260 L138 259.7 L139.8 259.1 L141.6 258.4 L143.3 258.4 L145.1 259.5 L146.8 261.4 L148.6 259.5 L150.4 258.5 L152.1 258 L153.9 259.3 L155.7 259.6 L157.4 262.3 L159.2 259.8 L161 257.2 L162.7 254 L164.5 247 L166.3 252.4 L168 256.4 L169.8 259.6 L171.5 262.6 L173.3 258 L175.1 258.5 L176.8 257.8 L178.6 258.7 L180.4 260.3 L182.1 259.6 L183.9 257.3 L185.7 258.3 L187.4 260.4 L189.2 262.6 L190.9 259.6 L192.7 258.8 L194.5 257.9 L196.2 258 L198 259.3 L199.8 261 L201.5 260.7 L203.3 258.4 L205.1 259.9 L206.8 261.7 L208.6 262.4 L210.4 261.3 L212.1 261 L213.9 260.1 L215.6 261.7 L217.4 262.1" fill="none" stroke="#808080" stroke-width="4.2" stroke-linejoin="round" stroke-opacity="1"/>
<path d="M218.8 257.7 L220.6 256.6 L222.4 257.8 L224.1 259.1 L225.9 258.4 L227.7 256.8 L229.5 258.8 L231.2 258.2 L233 254.2 L234.8 255.7 L236.6 256.3 L238.3 256.5 L240.1 255.5 L241.9 256 L243.6 252.1 L245.4 254 L247.2 255.5 L249 253.8 L250.7 252.4 L252.5 255.5 L254.3 256.7 L256.1 257.9 L257.8 261.1 L259.6 256.7 L261.4 257.9 L263.1 257.4 L264.9 258.2 L266.7 258.9 L268.5 260.7 L270.2 258.3 L272 257.6 L273.8 259.7 L275.6 259.1 L277.3 259.9 L279.1 260.9 L280.9 261 L282.7 262.2 L284.4 259.1 L286.2 259.1 L288 259.6 L289.7 257.7 L291.5 260.4 L293.3 257.5 L295.1 260.1 L296.8 263.9 L298.6 263.5 L300.4 259.9 L302.2 261.6 L303.9 263 L305.7 263.1 L307.5 263.5 L309.2 262 L311 262.5 L312.8 264.8 L314.6 260.8 L316.3 259.9 L318.1 258.9 L319.9 262.7 L321.7 261.6 L323.4 260.6 L325.2 261.6 L327 263.7 L328.7 261.1 L330.5 263.7 L332.3 264.2 L334.1 262.3 L335.8 264.8 L337.6 261.7 L339.4 263.8 L341.2 266.5 L342.9 267 L344.7 264.1 L346.5 264.5 L348.3 266 L350 265.7 L351.8 263.6 L353.6 262.3 L355.3 264.8 L357.1 264.1 L358.9 263.3 L360.7 264.3 L362.4 265.5 L364.2 267.6 L366 266.8 L367.8 265.9 L367.8 293.4 L366 291.8 L364.2 294.7 L362.4 291.4 L360.7 291.9 L358.9 292.5 L357.1 291 L355.3 294.4 L353.6 290.3 L351.8 291.5 L350 287.9 L348.3 290.8 L346.5 288.3 L344.7 286.9 L342.9 285.5 L341.2 287.6 L339.4 285.4 L337.6 287.7 L335.8 282.7 L334.1 283.4 L332.3 282.2 L330.5 283 L328.7 281.2 L327 281.3 L325.2 283.4 L323.4 280.9 L321.7 282.7 L319.9 282.4 L318.1 280.8 L316.3 279.3 L314.6 282 L312.8 281.4 L311 280.6 L309.2 281.8 L307.5 278.5 L305.7 278.7 L303.9 273.9 L302.2 277 L300.4 277.1 L298.6 273.9 L296.8 277 L295.1 277.2 L293.3 273.8 L291.5 274.9 L289.7 273.7 L288 272.1 L286.2 273.9 L284.4 272.8 L282.7 273.7 L280.9 272.5 L279.1 273.5 L277.3 270.8 L275.6 271.7 L273.8 270.2 L272 272.1 L270.2 272.6 L268.5 269.6 L266.7 270.2 L264.9 271.8 L263.1 271.3 L261.4 266.8 L259.6 270.5 L257.8 270.1 L256.1 269.4 L254.3 267.5 L252.5 266.8 L250.7 270.5 L249 270.5 L247.2 267.5 L245.4 271.5 L243.6 268.3 L241.9 270.7 L240.1 267.3 L238.3 268.4 L236.6 269.7 L234.8 268.6 L233 265.7 L231.2 266.5 L229.5 268.5 L227.7 264.6 L225.9 266.3 L224.1 269.1 L222.4 269 L220.6 266.3 L218.8 269.2Z" fill="#EE2C2C" fill-opacity="0.1" stroke="none"/>
<path d="M218.8 259.1 L220.6 259.6 L222.4 260.8 L224.1 257.2 L225.9 256.5 L227.7 259.6 L229.5 257.6 L231.2 255.5 L233 257.5 L234.8 256.5 L236.6 256 L238.3 258.1 L240.1 259.5 L241.9 258.8 L243.6 256.3 L245.4 255.8 L247.2 254.3 L249 257.6 L250.7 256.7 L252.5 254.5 L254.3 254.2 L256.1 254.2 L257.8 255.1 L259.6 257.7 L261.4 257.1 L263.1 259.1 L264.9 260.7 L266.7 256.5 L268.5 259.6 L270.2 258.3 L272 254.7 L273.8 255.3 L275.6 253.6 L277.3 256.1 L279.1 258.5 L280.9 258.4 L282.7 259.6 L284.4 258.2 L286.2 259.7 L288 258.6 L289.7 258.3 L291.5 257.7 L293.3 258.6 L295.1 256.2 L296.8 256.3 L298.6 260.7 L300.4 256.4 L302.2 255.6 L303.9 256.7 L305.7 255.2 L307.5 254.2 L309.2 255.7 L311 254.5 L312.8 256 L314.6 254.2 L316.3 256.1 L318.1 260.4 L319.9 255.4 L321.7 255.4 L323.4 253.9 L325.2 256.5 L327 258.6 L328.7 255.4 L330.5 257.8 L332.3 259.5 L334.1 257.3 L335.8 257 L337.6 256.7 L339.4 256.1 L341.2 255.4 L342.9 254.7 L344.7 252.5 L346.5 252.9 L348.3 255.5 L350 256.9 L351.8 258.1 L353.6 253.7 L355.3 253.5 L357.1 252.9 L358.9 255.1 L360.7 255.1 L362.4 254.6 L364.2 257.6 L366 255 L367.8 257.1 L367.8 274.4 L366 272.5 L364.2 270.9 L362.4 270.2 L360.7 271.1 L358.9 271.6 L357.1 272.4 L355.3 271.3 L353.6 271 L351.8 271.6 L350 271.4 L348.3 273.3 L346.5 271.6 L344.7 272.4 L342.9 272.9 L341.2 275.5 L339.4 272.2 L337.6 271.6 L335.8 274.2 L334.1 272.8 L332.3 270.3 L330.5 271.6 L328.7 274.1 L327 270.3 L325.2 270.9 L323.4 270.5 L321.7 269 L319.9 269.2 L318.1 270.5 L316.3 269.8 L314.6 273.5 L312.8 270.1 L311 269.5 L309.2 271.6 L307.5 269.3 L305.7 271.2 L303.9 273.7 L302.2 270.8 L300.4 270.3 L298.6 267.1 L296.8 268.8 L295.1 270.4 L293.3 269.2 L291.5 269.6 L289.7 270.3 L288 272.9 L286.2 272.8 L284.4 269.5 L282.7 270.2 L280.9 268.9 L279.1 270.7 L277.3 270.2 L275.6 267.8 L273.8 271.1 L272 270.8 L270.2 267.2 L268.5 271.2 L266.7 270.6 L264.9 269.5 L263.1 267.6 L261.4 269 L259.6 265.3 L257.8 265.5 L256.1 268.6 L254.3 269.6 L252.5 267.4 L250.7 267 L249 268.7 L247.2 265.2 L245.4 267.2 L243.6 267.8 L241.9 267.7 L240.1 268.8 L238.3 269.8 L236.6 267.5 L234.8 271.3 L233 267.2 L231.2 270.8 L229.5 266 L227.7 268.9 L225.9 267 L224.1 267.3 L222.4 265.7 L220.6 270 L218.8 267.8Z" fill="#4A8FF0" fill-opacity="0.13" stroke="none"/>
<path d="M218.8 259.1 L220.6 259.6 L222.4 260.8 L224.1 257.2 L225.9 256.5 L227.7 259.6 L229.5 257.6 L231.2 255.5 L233 257.5 L234.8 256.5 L236.6 256 L238.3 258.1 L240.1 259.5 L241.9 258.8 L243.6 256.3 L245.4 255.8 L247.2 254.3 L249 257.6 L250.7 256.7 L252.5 254.5 L254.3 254.2 L256.1 254.2 L257.8 255.1 L259.6 257.7 L261.4 257.1 L263.1 259.1 L264.9 260.7 L266.7 256.5 L268.5 259.6 L270.2 258.3 L272 254.7 L273.8 255.3 L275.6 253.6 L277.3 256.1 L279.1 258.5 L280.9 258.4 L282.7 259.6 L284.4 258.2 L286.2 259.7 L288 258.6 L289.7 258.3 L291.5 257.7 L293.3 258.6 L295.1 256.2 L296.8 256.3 L298.6 260.7 L300.4 256.4 L302.2 255.6 L303.9 256.7 L305.7 255.2 L307.5 254.2 L309.2 255.7 L311 254.5 L312.8 256 L314.6 254.2 L316.3 256.1 L318.1 260.4 L319.9 255.4 L321.7 255.4 L323.4 253.9 L325.2 256.5 L327 258.6 L328.7 255.4 L330.5 257.8 L332.3 259.5 L334.1 257.3 L335.8 257 L337.6 256.7 L339.4 256.1 L341.2 255.4 L342.9 254.7 L344.7 252.5 L346.5 252.9 L348.3 255.5 L350 256.9 L351.8 258.1 L353.6 253.7 L355.3 253.5 L357.1 252.9 L358.9 255.1 L360.7 255.1 L362.4 254.6 L364.2 257.6 L366 255 L367.8 257.1" fill="none" stroke="#4A8FF0" stroke-width="1.15" stroke-linejoin="round" stroke-opacity="1"/>
<path d="M218.8 267.8 L220.6 270 L222.4 265.7 L224.1 267.3 L225.9 267 L227.7 268.9 L229.5 266 L231.2 270.8 L233 267.2 L234.8 271.3 L236.6 267.5 L238.3 269.8 L240.1 268.8 L241.9 267.7 L243.6 267.8 L245.4 267.2 L247.2 265.2 L249 268.7 L250.7 267 L252.5 267.4 L254.3 269.6 L256.1 268.6 L257.8 265.5 L259.6 265.3 L261.4 269 L263.1 267.6 L264.9 269.5 L266.7 270.6 L268.5 271.2 L270.2 267.2 L272 270.8 L273.8 271.1 L275.6 267.8 L277.3 270.2 L279.1 270.7 L280.9 268.9 L282.7 270.2 L284.4 269.5 L286.2 272.8 L288 272.9 L289.7 270.3 L291.5 269.6 L293.3 269.2 L295.1 270.4 L296.8 268.8 L298.6 267.1 L300.4 270.3 L302.2 270.8 L303.9 273.7 L305.7 271.2 L307.5 269.3 L309.2 271.6 L311 269.5 L312.8 270.1 L314.6 273.5 L316.3 269.8 L318.1 270.5 L319.9 269.2 L321.7 269 L323.4 270.5 L325.2 270.9 L327 270.3 L328.7 274.1 L330.5 271.6 L332.3 270.3 L334.1 272.8 L335.8 274.2 L337.6 271.6 L339.4 272.2 L341.2 275.5 L342.9 272.9 L344.7 272.4 L346.5 271.6 L348.3 273.3 L350 271.4 L351.8 271.6 L353.6 271 L355.3 271.3 L357.1 272.4 L358.9 271.6 L360.7 271.1 L362.4 270.2 L364.2 270.9 L366 272.5 L367.8 274.4" fill="none" stroke="#4A8FF0" stroke-width="1.15" stroke-linejoin="round" stroke-opacity="1"/>
<path d="M218.8 257.7 L220.6 256.6 L222.4 257.8 L224.1 259.1 L225.9 258.4 L227.7 256.8 L229.5 258.8 L231.2 258.2 L233 254.2 L234.8 255.7 L236.6 256.3 L238.3 256.5 L240.1 255.5 L241.9 256 L243.6 252.1 L245.4 254 L247.2 255.5 L249 253.8 L250.7 252.4 L252.5 255.5 L254.3 256.7 L256.1 257.9 L257.8 261.1 L259.6 256.7 L261.4 257.9 L263.1 257.4 L264.9 258.2 L266.7 258.9 L268.5 260.7 L270.2 258.3 L272 257.6 L273.8 259.7 L275.6 259.1 L277.3 259.9 L279.1 260.9 L280.9 261 L282.7 262.2 L284.4 259.1 L286.2 259.1 L288 259.6 L289.7 257.7 L291.5 260.4 L293.3 257.5 L295.1 260.1 L296.8 263.9 L298.6 263.5 L300.4 259.9 L302.2 261.6 L303.9 263 L305.7 263.1 L307.5 263.5 L309.2 262 L311 262.5 L312.8 264.8 L314.6 260.8 L316.3 259.9 L318.1 258.9 L319.9 262.7 L321.7 261.6 L323.4 260.6 L325.2 261.6 L327 263.7 L328.7 261.1 L330.5 263.7 L332.3 264.2 L334.1 262.3 L335.8 264.8 L337.6 261.7 L339.4 263.8 L341.2 266.5 L342.9 267 L344.7 264.1 L346.5 264.5 L348.3 266 L350 265.7 L351.8 263.6 L353.6 262.3 L355.3 264.8 L357.1 264.1 L358.9 263.3 L360.7 264.3 L362.4 265.5 L364.2 267.6 L366 266.8 L367.8 265.9" fill="none" stroke="#EE2C2C" stroke-width="1.15" stroke-linejoin="round" stroke-opacity="1"/>
<path d="M218.8 269.2 L220.6 266.3 L222.4 269 L224.1 269.1 L225.9 266.3 L227.7 264.6 L229.5 268.5 L231.2 266.5 L233 265.7 L234.8 268.6 L236.6 269.7 L238.3 268.4 L240.1 267.3 L241.9 270.7 L243.6 268.3 L245.4 271.5 L247.2 267.5 L249 270.5 L250.7 270.5 L252.5 266.8 L254.3 267.5 L256.1 269.4 L257.8 270.1 L259.6 270.5 L261.4 266.8 L263.1 271.3 L264.9 271.8 L266.7 270.2 L268.5 269.6 L270.2 272.6 L272 272.1 L273.8 270.2 L275.6 271.7 L277.3 270.8 L279.1 273.5 L280.9 272.5 L282.7 273.7 L284.4 272.8 L286.2 273.9 L288 272.1 L289.7 273.7 L291.5 274.9 L293.3 273.8 L295.1 277.2 L296.8 277 L298.6 273.9 L300.4 277.1 L302.2 277 L303.9 273.9 L305.7 278.7 L307.5 278.5 L309.2 281.8 L311 280.6 L312.8 281.4 L314.6 282 L316.3 279.3 L318.1 280.8 L319.9 282.4 L321.7 282.7 L323.4 280.9 L325.2 283.4 L327 281.3 L328.7 281.2 L330.5 283 L332.3 282.2 L334.1 283.4 L335.8 282.7 L337.6 287.7 L339.4 285.4 L341.2 287.6 L342.9 285.5 L344.7 286.9 L346.5 288.3 L348.3 290.8 L350 287.9 L351.8 291.5 L353.6 290.3 L355.3 294.4 L357.1 291 L358.9 292.5 L360.7 291.9 L362.4 291.4 L364.2 294.7 L366 291.8 L367.8 293.4" fill="none" stroke="#EE2C2C" stroke-width="1.15" stroke-linejoin="round" stroke-opacity="1"/>
<path d="M218.8 263.4 L220.6 262.8 L222.4 263.3 L224.1 262.8 L225.9 264.5 L227.7 263.5 L229.5 262.9 L231.2 264.3 L233 263.6 L234.8 266.1 L236.6 265.2 L238.3 264.2 L240.1 261.9 L241.9 261.4 L243.6 263.9 L245.4 265.3 L247.2 263.4 L249 262.6 L250.7 263 L252.5 261.6 L254.3 266 L256.1 266.9 L257.8 265.7 L259.6 262.8 L261.4 262.9 L263.1 261.8 L264.9 262.4 L266.7 264.8 L268.5 264.4 L270.2 264.8 L272 265.4 L273.8 265.8 L275.6 263.3 L277.3 261.7 L279.1 262.6 L280.9 264.3 L282.7 265.8 L284.4 265.5 L286.2 264.7 L288 265.5 L289.7 264.9 L291.5 264.6 L293.3 262.9 L295.1 263.6 L296.8 264.5 L298.6 265.9 L300.4 266.2 L302.2 264.6 L303.9 266.1 L305.7 264.8 L307.5 266.7 L309.2 264.3 L311 266.1 L312.8 265.9 L314.6 264.3 L316.3 264.3 L318.1 264.7 L319.9 266.2 L321.7 266.3 L323.4 265.4 L325.2 265.3 L327 265.2 L328.7 265.8 L330.5 267 L332.3 265.2 L334.1 265.4 L335.8 263.9 L337.6 265.2 L339.4 265.8 L341.2 267.2 L342.9 267.6 L344.7 266.7 L346.5 264.2 L348.3 266.3 L350 263.5 L351.8 266.9 L353.6 264.5 L355.3 265.7 L357.1 265.5 L358.9 262.5 L360.7 262.5 L362.4 264.1 L364.2 265.5 L366 264.9 L367.8 265.5" fill="none" stroke="#4A8FF0" stroke-width="4.2" stroke-linejoin="round" stroke-opacity="1"/>
<path d="M218.8 262.7 L220.6 263.2 L222.4 264.6 L224.1 263 L225.9 263.4 L227.7 263.2 L229.5 265.8 L231.2 263.2 L233 265.3 L234.8 265.2 L236.6 264.3 L238.3 264.9 L240.1 263.2 L241.9 262.3 L243.6 262.7 L245.4 264 L247.2 265.4 L249 266.8 L250.7 264.7 L252.5 266 L254.3 264.8 L256.1 266 L257.8 267.8 L259.6 265.4 L261.4 265.8 L263.1 266.6 L264.9 265.1 L266.7 267.2 L268.5 266 L270.2 265 L272 267.8 L273.8 267 L275.6 265.7 L277.3 267.4 L279.1 269.2 L280.9 268.5 L282.7 266.9 L284.4 267.3 L286.2 267.2 L288 268 L289.7 271.6 L291.5 271.6 L293.3 268.1 L295.1 269.5 L296.8 268.8 L298.6 269.6 L300.4 269.2 L302.2 271.3 L303.9 272.5 L305.7 271.2 L307.5 272.1 L309.2 270.9 L311 273.1 L312.8 272.9 L314.6 274.3 L316.3 274.5 L318.1 273.4 L319.9 276.7 L321.7 275.7 L323.4 276.7 L325.2 274.8 L327 276.7 L328.7 276 L330.5 279 L332.3 277.4 L334.1 277.1 L335.8 277 L337.6 278.3 L339.4 276.6 L341.2 277.6 L342.9 277.2 L344.7 278.4 L346.5 277.3 L348.3 277.4 L350 277.9 L351.8 276.5 L353.6 276.5 L355.3 277.5 L357.1 278.9 L358.9 278.8 L360.7 280 L362.4 278.7 L364.2 279.7 L366 280.5 L367.8 284.8" fill="none" stroke="#EE2C2C" stroke-width="4.2" stroke-linejoin="round" stroke-opacity="1"/>
<rect x="393.6" y="235.2" width="289.9" height="182.8" fill="#fff"/>
<path d="M406 235.2V418M419.3 235.2V418M432.5 235.2V418M445.8 235.2V418M459 235.2V418M472.3 235.2V418M485.5 235.2V418M498.8 235.2V418M512 235.2V418M525.3 235.2V418M538.5 235.2V418M551.8 235.2V418M565 235.2V418M578.3 235.2V418M591.5 235.2V418M604.8 235.2V418M618 235.2V418M631.3 235.2V418M644.5 235.2V418M657.8 235.2V418M671 235.2V418M393.6 398.8H683.5M393.6 378.8H683.5M393.6 358.8H683.5M393.6 338.8H683.5M393.6 318.8H683.5M393.6 298.8H683.5M393.6 278.8H683.5M393.6 258.8H683.5M393.6 238.8H683.5" stroke="#EBEBEB" stroke-width="1.5" fill="none"/>
<path d="M393.6 258.8H683.5" stroke="#4D4D4D" stroke-width="3.25" stroke-dasharray="3.25 9.75 13 9.75" fill="none"/>
<path d="M432 258.7 L433.8 258.9 L435.5 258.2 L437.3 258.4 L439.1 258.7 L440.9 258.2 L442.6 258.7 L444.4 257.8 L446.2 258.4 L448 259.1 L449.7 259.1 L451.5 258.9 L453.3 258.8 L455.1 260 L456.8 261.9 L458.6 265.4 L460.4 267 L462.1 265 L463.9 261.5 L465.7 258.8 L467.5 256.7 L469.2 258.5 L471 264.1 L472.8 268.5 L474.6 272.6 L476.3 271 L478.1 270.9 L479.9 272.5 L481.6 274.2 L483.4 275.8 L485.2 278.1 L487 280 L488.7 280.7 L490.5 280.7 L492.3 283.3 L494.1 285.9 L495.8 287.3 L497.6 287.4 L499.4 288.7 L501.2 290.4 L502.9 292.6 L504.7 295.3 L506.5 294.3 L508.2 294.9 L510 298.8 L511.8 301.1 L513.6 302.2 L515.3 301.8 L517.1 304.3 L518.9 304 L520.7 303.1 L520.7 363.7 L518.9 362.9 L517.1 362.9 L515.3 360.5 L513.6 358.8 L511.8 356.1 L510 354.4 L508.2 352.1 L506.5 350.6 L504.7 348.7 L502.9 347 L501.2 343.7 L499.4 341.6 L497.6 340.2 L495.8 336.8 L494.1 334.7 L492.3 331.4 L490.5 328.6 L488.7 326.4 L487 324 L485.2 321.3 L483.4 318.1 L481.6 315.4 L479.9 312.6 L478.1 309.7 L476.3 306.7 L474.6 304.3 L472.8 298.7 L471 294 L469.2 292.1 L467.5 291.6 L465.7 290.8 L463.9 289.8 L462.1 288.9 L460.4 286.2 L458.6 284.6 L456.8 282 L455.1 278.1 L453.3 276 L451.5 274.2 L449.7 273.3 L448 271.7 L446.2 269.6 L444.4 267.9 L442.6 266.8 L440.9 265.1 L439.1 264.6 L437.3 263.2 L435.5 262.5 L433.8 260.9 L432 260.3Z" fill="#808080" fill-opacity="0.12" stroke="none"/>
<path d="M432 258.7 L433.8 258.9 L435.5 258.2 L437.3 258.4 L439.1 258.7 L440.9 258.2 L442.6 258.7 L444.4 257.8 L446.2 258.4 L448 259.1 L449.7 259.1 L451.5 258.9 L453.3 258.8 L455.1 260 L456.8 261.9 L458.6 265.4 L460.4 267 L462.1 265 L463.9 261.5 L465.7 258.8 L467.5 256.7 L469.2 258.5 L471 264.1 L472.8 268.5 L474.6 272.6 L476.3 271 L478.1 270.9 L479.9 272.5 L481.6 274.2 L483.4 275.8 L485.2 278.1 L487 280 L488.7 280.7 L490.5 280.7 L492.3 283.3 L494.1 285.9 L495.8 287.3 L497.6 287.4 L499.4 288.7 L501.2 290.4 L502.9 292.6 L504.7 295.3 L506.5 294.3 L508.2 294.9 L510 298.8 L511.8 301.1 L513.6 302.2 L515.3 301.8 L517.1 304.3 L518.9 304 L520.7 303.1" fill="none" stroke="#5E5E5E" stroke-width="1.05" stroke-linejoin="round" stroke-opacity="1"/>
<path d="M432 260.3 L433.8 260.9 L435.5 262.5 L437.3 263.2 L439.1 264.6 L440.9 265.1 L442.6 266.8 L444.4 267.9 L446.2 269.6 L448 271.7 L449.7 273.3 L451.5 274.2 L453.3 276 L455.1 278.1 L456.8 282 L458.6 284.6 L460.4 286.2 L462.1 288.9 L463.9 289.8 L465.7 290.8 L467.5 291.6 L469.2 292.1 L471 294 L472.8 298.7 L474.6 304.3 L476.3 306.7 L478.1 309.7 L479.9 312.6 L481.6 315.4 L483.4 318.1 L485.2 321.3 L487 324 L488.7 326.4 L490.5 328.6 L492.3 331.4 L494.1 334.7 L495.8 336.8 L497.6 340.2 L499.4 341.6 L501.2 343.7 L502.9 347 L504.7 348.7 L506.5 350.6 L508.2 352.1 L510 354.4 L511.8 356.1 L513.6 358.8 L515.3 360.5 L517.1 362.9 L518.9 362.9 L520.7 363.7" fill="none" stroke="#5E5E5E" stroke-width="1.05" stroke-linejoin="round" stroke-opacity="1"/>
<path d="M406 257.7 L407.8 258.5 L409.5 258.9 L411.3 259.8 L413.1 260.4 L414.8 259.6 L416.6 259.1 L418.3 259.3 L420.1 259.6 L421.9 259 L423.6 259.7 L425.4 259.4 L427.2 262.2 L428.9 263.4 L430.7 262.7 L432.5 262.1 L434.2 261.3 L436 260.9 L437.8 261.2 L439.5 262 L441.3 261.8 L443 263.2 L444.8 263.4 L446.6 263.6 L448.3 266.3 L450.1 266.2 L451.9 267.2 L453.6 267.4 L455.4 269.6 L457.2 272.6 L458.9 275.2 L460.7 275.9 L462.4 276.1 L464.2 276.3 L466 274.1 L467.7 272.9 L469.5 274.2 L471.3 279.3 L473 284.4 L474.8 288.2 L476.6 290.6 L478.3 291.4 L480.1 293.1 L481.9 294.3 L483.6 297.1 L485.4 298.2 L487.1 300.1 L488.9 301.4 L490.7 304.1 L492.4 305.8 L494.2 308.3 L496 310.5 L497.7 312.6 L499.5 313.6 L501.3 315.1 L503 318 L504.8 319.3 L506.5 320.6 L508.3 323.6 L510.1 326.2 L511.8 328.6 L513.6 329.8 L515.4 329.7 L517.1 331.3 L518.9 332.5 L520.7 333" fill="none" stroke="#808080" stroke-width="4.2" stroke-linejoin="round" stroke-opacity="1"/>
<path d="M522.1 308.3 L523.8 308.5 L525.6 308.7 L527.4 308.7 L529.2 308.9 L530.9 308.9 L532.7 310.6 L534.5 308.9 L536.3 310.7 L538 311.7 L539.8 311.8 L541.6 312.2 L543.3 312 L545.1 312.6 L546.9 313.9 L548.7 314.3 L550.4 315.4 L552.2 313.8 L554 315.2 L555.8 314.1 L557.5 314.7 L559.3 312.8 L561.1 313.2 L562.9 315.3 L564.6 313.3 L566.4 313.6 L568.2 313.7 L569.9 313.4 L571.7 313.1 L573.5 312.3 L575.3 314.4 L577 314.6 L578.8 315.5 L580.6 315 L582.4 316.7 L584.1 316.9 L585.9 315.6 L587.7 315.5 L589.4 316.6 L591.2 316.2 L593 316 L594.8 316.6 L596.5 313.8 L598.3 314.8 L600.1 315.8 L601.9 315.7 L603.6 316.5 L605.4 317.2 L607.2 317.3 L608.9 315.8 L610.7 316.5 L612.5 317.6 L614.3 316.7 L616 316.9 L617.8 315.8 L619.6 314.5 L621.4 315.5 L623.1 316.5 L624.9 317.7 L626.7 316.9 L628.5 317.6 L630.2 316.3 L632 316.5 L633.8 316.9 L635.5 317.4 L637.3 316.5 L639.1 318.2 L640.9 316.6 L642.6 315.2 L644.4 317.4 L646.2 317.7 L648 317 L649.7 317.6 L651.5 316.8 L653.3 318.8 L655 319.7 L656.8 317.1 L658.6 317.9 L660.4 316.9 L662.1 316.8 L663.9 316.4 L665.7 317 L667.5 316.2 L669.2 318.3 L671 317.3 L671 376.9 L669.2 376.8 L667.5 377.4 L665.7 375.4 L663.9 376.6 L662.1 377.1 L660.4 375.9 L658.6 375.3 L656.8 376.2 L655 375.6 L653.3 376.9 L651.5 377.9 L649.7 377.3 L648 376.2 L646.2 377.5 L644.4 376.2 L642.6 375.2 L640.9 375.3 L639.1 376.6 L637.3 375.3 L635.5 377.4 L633.8 377.1 L632 376.9 L630.2 375.6 L628.5 375.9 L626.7 375.6 L624.9 375.1 L623.1 376.7 L621.4 375.4 L619.6 377.1 L617.8 374.7 L616 374.6 L614.3 374.7 L612.5 373.5 L610.7 375.6 L608.9 374.9 L607.2 375.7 L605.4 375.1 L603.6 375.6 L601.9 375.3 L600.1 375.6 L598.3 374.6 L596.5 374.9 L594.8 376.5 L593 376.4 L591.2 376.1 L589.4 375.5 L587.7 375.3 L585.9 374.4 L584.1 374.6 L582.4 375.9 L580.6 375.7 L578.8 374.2 L577 375.1 L575.3 375 L573.5 372.7 L571.7 373.3 L569.9 373.6 L568.2 374.8 L566.4 372.7 L564.6 374.5 L562.9 374.8 L561.1 374.2 L559.3 374.6 L557.5 372.6 L555.8 375.6 L554 374.4 L552.2 375.5 L550.4 373.9 L548.7 375.2 L546.9 373.5 L545.1 371.8 L543.3 371.8 L541.6 371 L539.8 370.1 L538 371.1 L536.3 370.2 L534.5 369.6 L532.7 369.9 L530.9 371.6 L529.2 369.4 L527.4 369.2 L525.6 369 L523.8 368.5 L522.1 367.3Z" fill="#EE2C2C" fill-opacity="0.1" stroke="none"/>
<path d="M522.1 308.7 L523.8 309.4 L525.6 309.4 L527.4 310.8 L529.2 309.9 L530.9 311.7 L532.7 312.3 L534.5 312.2 L536.3 313.2 L538 314.1 L539.8 313.6 L541.6 313.4 L543.3 315.7 L545.1 315.8 L546.9 316 L548.7 315.1 L550.4 314.1 L552.2 316.1 L554 315.1 L555.8 317.3 L557.5 316.1 L559.3 315.3 L561.1 314.3 L562.9 316.5 L564.6 315.6 L566.4 313.9 L568.2 314.9 L569.9 316.1 L571.7 314.9 L573.5 314 L575.3 316.2 L577 315.3 L578.8 314 L580.6 314.3 L582.4 315.7 L584.1 316.3 L585.9 316.7 L587.7 316.2 L589.4 315.1 L591.2 316.3 L593 315.2 L594.8 314.8 L596.5 316 L598.3 317.1 L600.1 314.6 L601.9 315.2 L603.6 318.1 L605.4 317 L607.2 317.7 L608.9 318 L610.7 317.2 L612.5 315.8 L614.3 316.1 L616 317.4 L617.8 318.3 L619.6 315.2 L621.4 315.8 L623.1 316 L624.9 316.4 L626.7 316 L628.5 315.4 L630.2 316.1 L632 316.8 L633.8 317 L635.5 315.8 L637.3 316.1 L639.1 315.3 L640.9 316 L642.6 314.7 L644.4 315.4 L646.2 314.2 L648 312 L649.7 313.1 L651.5 313.7 L653.3 313 L655 313.1 L656.8 312.8 L658.6 312.5 L660.4 314.1 L662.1 314 L663.9 315.4 L665.7 314.9 L667.5 314.2 L669.2 313.7 L671 313.4 L671 370 L669.2 371.8 L667.5 370.7 L665.7 372.1 L663.9 371.4 L662.1 371.2 L660.4 372.5 L658.6 372.4 L656.8 372.6 L655 372.8 L653.3 372.9 L651.5 372.4 L649.7 373.3 L648 373.3 L646.2 371.2 L644.4 372.9 L642.6 373.8 L640.9 374.4 L639.1 374 L637.3 373.9 L635.5 374 L633.8 373.9 L632 374.6 L630.2 374.7 L628.5 374.6 L626.7 373.3 L624.9 373.2 L623.1 374.3 L621.4 374.9 L619.6 374.3 L617.8 375.9 L616 375 L614.3 375.2 L612.5 376.3 L610.7 375.2 L608.9 374.6 L607.2 375.2 L605.4 374.7 L603.6 376.6 L601.9 373.9 L600.1 376.4 L598.3 374.9 L596.5 375.6 L594.8 375.8 L593 374.6 L591.2 373.9 L589.4 373.5 L587.7 374.9 L585.9 377.1 L584.1 375.8 L582.4 375.4 L580.6 375.8 L578.8 375.6 L577 376.4 L575.3 375.6 L573.5 374.1 L571.7 373.8 L569.9 376.1 L568.2 376.2 L566.4 374.8 L564.6 374.8 L562.9 373.7 L561.1 372.6 L559.3 373.7 L557.5 374.8 L555.8 375.5 L554 373.7 L552.2 372.5 L550.4 374.4 L548.7 372.8 L546.9 373 L545.1 370.9 L543.3 371.1 L541.6 369.9 L539.8 370.9 L538 370.7 L536.3 370.6 L534.5 371.4 L532.7 369.7 L530.9 368.1 L529.2 368.2 L527.4 366.7 L525.6 366.7 L523.8 367.4 L522.1 368.4Z" fill="#4A8FF0" fill-opacity="0.13" stroke="none"/>
<path d="M522.1 308.7 L523.8 309.4 L525.6 309.4 L527.4 310.8 L529.2 309.9 L530.9 311.7 L532.7 312.3 L534.5 312.2 L536.3 313.2 L538 314.1 L539.8 313.6 L541.6 313.4 L543.3 315.7 L545.1 315.8 L546.9 316 L548.7 315.1 L550.4 314.1 L552.2 316.1 L554 315.1 L555.8 317.3 L557.5 316.1 L559.3 315.3 L561.1 314.3 L562.9 316.5 L564.6 315.6 L566.4 313.9 L568.2 314.9 L569.9 316.1 L571.7 314.9 L573.5 314 L575.3 316.2 L577 315.3 L578.8 314 L580.6 314.3 L582.4 315.7 L584.1 316.3 L585.9 316.7 L587.7 316.2 L589.4 315.1 L591.2 316.3 L593 315.2 L594.8 314.8 L596.5 316 L598.3 317.1 L600.1 314.6 L601.9 315.2 L603.6 318.1 L605.4 317 L607.2 317.7 L608.9 318 L610.7 317.2 L612.5 315.8 L614.3 316.1 L616 317.4 L617.8 318.3 L619.6 315.2 L621.4 315.8 L623.1 316 L624.9 316.4 L626.7 316 L628.5 315.4 L630.2 316.1 L632 316.8 L633.8 317 L635.5 315.8 L637.3 316.1 L639.1 315.3 L640.9 316 L642.6 314.7 L644.4 315.4 L646.2 314.2 L648 312 L649.7 313.1 L651.5 313.7 L653.3 313 L655 313.1 L656.8 312.8 L658.6 312.5 L660.4 314.1 L662.1 314 L663.9 315.4 L665.7 314.9 L667.5 314.2 L669.2 313.7 L671 313.4" fill="none" stroke="#4A8FF0" stroke-width="1.15" stroke-linejoin="round" stroke-opacity="1"/>
<path d="M522.1 368.4 L523.8 367.4 L525.6 366.7 L527.4 366.7 L529.2 368.2 L530.9 368.1 L532.7 369.7 L534.5 371.4 L536.3 370.6 L538 370.7 L539.8 370.9 L541.6 369.9 L543.3 371.1 L545.1 370.9 L546.9 373 L548.7 372.8 L550.4 374.4 L552.2 372.5 L554 373.7 L555.8 375.5 L557.5 374.8 L559.3 373.7 L561.1 372.6 L562.9 373.7 L564.6 374.8 L566.4 374.8 L568.2 376.2 L569.9 376.1 L571.7 373.8 L573.5 374.1 L575.3 375.6 L577 376.4 L578.8 375.6 L580.6 375.8 L582.4 375.4 L584.1 375.8 L585.9 377.1 L587.7 374.9 L589.4 373.5 L591.2 373.9 L593 374.6 L594.8 375.8 L596.5 375.6 L598.3 374.9 L600.1 376.4 L601.9 373.9 L603.6 376.6 L605.4 374.7 L607.2 375.2 L608.9 374.6 L610.7 375.2 L612.5 376.3 L614.3 375.2 L616 375 L617.8 375.9 L619.6 374.3 L621.4 374.9 L623.1 374.3 L624.9 373.2 L626.7 373.3 L628.5 374.6 L630.2 374.7 L632 374.6 L633.8 373.9 L635.5 374 L637.3 373.9 L639.1 374 L640.9 374.4 L642.6 373.8 L644.4 372.9 L646.2 371.2 L648 373.3 L649.7 373.3 L651.5 372.4 L653.3 372.9 L655 372.8 L656.8 372.6 L658.6 372.4 L660.4 372.5 L662.1 371.2 L663.9 371.4 L665.7 372.1 L667.5 370.7 L669.2 371.8 L671 370" fill="none" stroke="#4A8FF0" stroke-width="1.15" stroke-linejoin="round" stroke-opacity="1"/>
<path d="M522.1 308.3 L523.8 308.5 L525.6 308.7 L527.4 308.7 L529.2 308.9 L530.9 308.9 L532.7 310.6 L534.5 308.9 L536.3 310.7 L538 311.7 L539.8 311.8 L541.6 312.2 L543.3 312 L545.1 312.6 L546.9 313.9 L548.7 314.3 L550.4 315.4 L552.2 313.8 L554 315.2 L555.8 314.1 L557.5 314.7 L559.3 312.8 L561.1 313.2 L562.9 315.3 L564.6 313.3 L566.4 313.6 L568.2 313.7 L569.9 313.4 L571.7 313.1 L573.5 312.3 L575.3 314.4 L577 314.6 L578.8 315.5 L580.6 315 L582.4 316.7 L584.1 316.9 L585.9 315.6 L587.7 315.5 L589.4 316.6 L591.2 316.2 L593 316 L594.8 316.6 L596.5 313.8 L598.3 314.8 L600.1 315.8 L601.9 315.7 L603.6 316.5 L605.4 317.2 L607.2 317.3 L608.9 315.8 L610.7 316.5 L612.5 317.6 L614.3 316.7 L616 316.9 L617.8 315.8 L619.6 314.5 L621.4 315.5 L623.1 316.5 L624.9 317.7 L626.7 316.9 L628.5 317.6 L630.2 316.3 L632 316.5 L633.8 316.9 L635.5 317.4 L637.3 316.5 L639.1 318.2 L640.9 316.6 L642.6 315.2 L644.4 317.4 L646.2 317.7 L648 317 L649.7 317.6 L651.5 316.8 L653.3 318.8 L655 319.7 L656.8 317.1 L658.6 317.9 L660.4 316.9 L662.1 316.8 L663.9 316.4 L665.7 317 L667.5 316.2 L669.2 318.3 L671 317.3" fill="none" stroke="#EE2C2C" stroke-width="1.15" stroke-linejoin="round" stroke-opacity="1"/>
<path d="M522.1 367.3 L523.8 368.5 L525.6 369 L527.4 369.2 L529.2 369.4 L530.9 371.6 L532.7 369.9 L534.5 369.6 L536.3 370.2 L538 371.1 L539.8 370.1 L541.6 371 L543.3 371.8 L545.1 371.8 L546.9 373.5 L548.7 375.2 L550.4 373.9 L552.2 375.5 L554 374.4 L555.8 375.6 L557.5 372.6 L559.3 374.6 L561.1 374.2 L562.9 374.8 L564.6 374.5 L566.4 372.7 L568.2 374.8 L569.9 373.6 L571.7 373.3 L573.5 372.7 L575.3 375 L577 375.1 L578.8 374.2 L580.6 375.7 L582.4 375.9 L584.1 374.6 L585.9 374.4 L587.7 375.3 L589.4 375.5 L591.2 376.1 L593 376.4 L594.8 376.5 L596.5 374.9 L598.3 374.6 L600.1 375.6 L601.9 375.3 L603.6 375.6 L605.4 375.1 L607.2 375.7 L608.9 374.9 L610.7 375.6 L612.5 373.5 L614.3 374.7 L616 374.6 L617.8 374.7 L619.6 377.1 L621.4 375.4 L623.1 376.7 L624.9 375.1 L626.7 375.6 L628.5 375.9 L630.2 375.6 L632 376.9 L633.8 377.1 L635.5 377.4 L637.3 375.3 L639.1 376.6 L640.9 375.3 L642.6 375.2 L644.4 376.2 L646.2 377.5 L648 376.2 L649.7 377.3 L651.5 377.9 L653.3 376.9 L655 375.6 L656.8 376.2 L658.6 375.3 L660.4 375.9 L662.1 377.1 L663.9 376.6 L665.7 375.4 L667.5 377.4 L669.2 376.8 L671 376.9" fill="none" stroke="#EE2C2C" stroke-width="1.15" stroke-linejoin="round" stroke-opacity="1"/>
<path d="M522.1 338.9 L523.8 338.8 L525.6 340.3 L527.4 339.3 L529.2 340 L530.9 339.9 L532.7 341.4 L534.5 341.9 L536.3 342.1 L538 343.1 L539.8 342.6 L541.6 342.5 L543.3 342.6 L545.1 342.5 L546.9 342.8 L548.7 342.4 L550.4 343.7 L552.2 342.7 L554 343.7 L555.8 343.4 L557.5 343 L559.3 344.1 L561.1 343.4 L562.9 344 L564.6 344.8 L566.4 343.9 L568.2 344.8 L569.9 343.6 L571.7 343.7 L573.5 344.6 L575.3 343.5 L577 345 L578.8 344 L580.6 342.9 L582.4 345.3 L584.1 343.5 L585.9 343.8 L587.7 344.7 L589.4 345.2 L591.2 344.4 L593 344.6 L594.8 345.2 L596.5 345.4 L598.3 344.2 L600.1 344.8 L601.9 345.7 L603.6 343.4 L605.4 344 L607.2 343.7 L608.9 345 L610.7 343.5 L612.5 345 L614.3 345.8 L616 344.9 L617.8 344 L619.6 344.5 L621.4 342.9 L623.1 344.5 L624.9 343.7 L626.7 344 L628.5 343.9 L630.2 343.7 L632 345 L633.8 345.4 L635.5 344.8 L637.3 344.5 L639.1 342.9 L640.9 342.2 L642.6 343.9 L644.4 343 L646.2 345.3 L648 345.4 L649.7 346.3 L651.5 345.4 L653.3 344.3 L655 344.2 L656.8 345.1 L658.6 343.9 L660.4 344.1 L662.1 344.1 L663.9 342.1 L665.7 342.4 L667.5 342.7 L669.2 343.9 L671 342.5" fill="none" stroke="#4A8FF0" stroke-width="4.2" stroke-linejoin="round" stroke-opacity="1"/>
<path d="M522.1 337.8 L523.8 339.2 L525.6 340 L527.4 340.3 L529.2 341.2 L530.9 341.3 L532.7 342 L534.5 341.6 L536.3 342.8 L538 341.7 L539.8 342.9 L541.6 343.7 L543.3 342.5 L545.1 342.1 L546.9 343.4 L548.7 345.3 L550.4 345.7 L552.2 344.3 L554 343.9 L555.8 344.7 L557.5 344.3 L559.3 344.5 L561.1 344.9 L562.9 344 L564.6 345.4 L566.4 345.9 L568.2 346.2 L569.9 347.1 L571.7 344.6 L573.5 345.4 L575.3 344.8 L577 344.9 L578.8 344.7 L580.6 344.3 L582.4 343.6 L584.1 344.5 L585.9 344.4 L587.7 344.6 L589.4 344.4 L591.2 344.7 L593 346.4 L594.8 344.3 L596.5 345.3 L598.3 343.4 L600.1 343.6 L601.9 343.5 L603.6 343.6 L605.4 343.3 L607.2 343.2 L608.9 344.5 L610.7 344 L612.5 346.1 L614.3 346.4 L616 346 L617.8 344.6 L619.6 345.5 L621.4 344.3 L623.1 345.3 L624.9 343.3 L626.7 344.1 L628.5 344.5 L630.2 346.5 L632 344.7 L633.8 345.1 L635.5 345.9 L637.3 344.2 L639.1 344.4 L640.9 345.5 L642.6 346.7 L644.4 345.8 L646.2 345.3 L648 346.8 L649.7 345.8 L651.5 346.4 L653.3 346.4 L655 347 L656.8 346.9 L658.6 347.2 L660.4 346.2 L662.1 347.5 L663.9 347.4 L665.7 347.9 L667.5 347.7 L669.2 348.6 L671 347.6" fill="none" stroke="#EE2C2C" stroke-width="4.2" stroke-linejoin="round" stroke-opacity="1"/>
<rect x="90.5" y="431.2" width="289.9" height="182.8" fill="#fff"/>
<path d="M102.8 431.2V614M116 431.2V614M129.3 431.2V614M142.5 431.2V614M155.8 431.2V614M169 431.2V614M182.3 431.2V614M195.5 431.2V614M208.8 431.2V614M222 431.2V614M235.3 431.2V614M248.5 431.2V614M261.8 431.2V614M275 431.2V614M288.3 431.2V614M301.5 431.2V614M314.8 431.2V614M328 431.2V614M341.3 431.2V614M354.5 431.2V614M367.8 431.2V614M90.5 594.7H380.4M90.5 574.7H380.4M90.5 554.7H380.4M90.5 534.7H380.4M90.5 514.7H380.4M90.5 494.7H380.4M90.5 474.7H380.4M90.5 454.7H380.4M90.5 434.7H380.4" stroke="#EBEBEB" stroke-width="1.5" fill="none"/>
<path d="M90.5 454.7H380.4" stroke="#4D4D4D" stroke-width="3.25" stroke-dasharray="3.25 9.75 13 9.75" fill="none"/>
<path d="M191.1 455.3 L192.8 455.4 L194.6 454.1 L196.3 454.4 L198.1 455 L199.9 454.9 L201.6 454.8 L203.4 453.6 L205.1 454.2 L206.9 454.2 L208.6 455.1 L210.4 454 L212.1 453.1 L213.9 452.8 L215.7 453.8 L217.4 454.9 L217.4 460.5 L215.7 458.5 L213.9 457.9 L212.1 459.5 L210.4 459.4 L208.6 458.5 L206.9 458.3 L205.1 457.6 L203.4 458.1 L201.6 459 L199.9 458.2 L198.1 456.9 L196.3 456.2 L194.6 457.3 L192.8 457.4 L191.1 457.6Z" fill="#808080" fill-opacity="0.12" stroke="none"/>
<path d="M191.1 455.3 L192.8 455.4 L194.6 454.1 L196.3 454.4 L198.1 455 L199.9 454.9 L201.6 454.8 L203.4 453.6 L205.1 454.2 L206.9 454.2 L208.6 455.1 L210.4 454 L212.1 453.1 L213.9 452.8 L215.7 453.8 L217.4 454.9" fill="none" stroke="#585858" stroke-width="1.05" stroke-linejoin="round" stroke-opacity="1"/>
<path d="M191.1 457.6 L192.8 457.4 L194.6 457.3 L196.3 456.2 L198.1 456.9 L199.9 458.2 L201.6 459 L203.4 458.1 L205.1 457.6 L206.9 458.3 L208.6 458.5 L210.4 459.4 L212.1 459.5 L213.9 457.9 L215.7 458.5 L217.4 460.5" fill="none" stroke="#585858" stroke-width="1.05" stroke-linejoin="round" stroke-opacity="1"/>
<path d="M102.8 455.2 L104.5 454.7 L106.3 453.8 L108 453.7 L109.8 454.8 L111.6 455.6 L113.3 455.2 L115.1 454.4 L116.9 452.7 L118.6 454.1 L120.4 454.4 L122.2 456.2 L123.9 456.2 L125.7 454.7 L127.4 454.1 L129.2 454.2 L131 455 L132.7 456.1 L134.5 457.1 L136.3 455.5 L138 454.1 L139.8 454.6 L141.6 457.1 L143.3 457 L145.1 455.9 L146.8 454.7 L148.6 455.3 L150.4 456.4 L152.1 457.3 L153.9 456 L155.7 456 L157.4 457.6 L159.2 456.3 L161 454.4 L162.7 452.8 L164.5 450.5 L166.3 446.9 L168 450.2 L169.8 451.5 L171.5 455.5 L173.3 457.9 L175.1 454.7 L176.8 454.4 L178.6 456.1 L180.4 456.2 L182.1 456.1 L183.9 456.8 L185.7 456.1 L187.4 455.1 L189.2 456.7 L190.9 457.8 L192.7 457.9 L194.5 457.5 L196.2 456 L198 455.5 L199.8 457.7 L201.5 457.7 L203.3 456.6 L205.1 455.9 L206.8 457 L208.6 457.4 L210.4 458.9 L212.1 458.3 L213.9 456.5 L215.6 455.2 L217.4 456.2" fill="none" stroke="#808080" stroke-width="4.2" stroke-linejoin="round" stroke-opacity="1"/>
<path d="M218.8 452.1 L220.6 455.2 L222.4 454.2 L224.1 451.8 L225.9 452.7 L227.7 452 L229.5 454.7 L231.2 454.8 L233 454.5 L234.8 453.7 L236.6 454.6 L238.3 452.6 L240.1 453.9 L241.9 456.5 L243.6 453.7 L245.4 454.7 L247.2 453.3 L249 453.8 L250.7 456.6 L252.5 455.5 L254.3 456.5 L256.1 455.2 L257.8 455.9 L259.6 456.6 L261.4 457.2 L263.1 456.8 L264.9 455.6 L266.7 455.5 L268.5 458.4 L270.2 457.4 L272 455.5 L273.8 455.4 L275.6 459.2 L277.3 457.8 L279.1 457.2 L280.9 457.1 L282.7 457.9 L284.4 457.3 L286.2 458 L288 456 L289.7 457.3 L291.5 459.9 L293.3 460.7 L295.1 460.6 L296.8 459.2 L298.6 459 L300.4 458.8 L302.2 460.9 L303.9 458 L305.7 460.2 L307.5 461 L309.2 462.4 L311 463.8 L312.8 460.4 L314.6 460.2 L316.3 463.6 L318.1 463 L319.9 463.3 L321.7 460.7 L323.4 463.2 L325.2 465.2 L327 465.5 L328.7 463.5 L330.5 464.7 L332.3 464.6 L334.1 464.7 L335.8 462.7 L337.6 463.2 L339.4 461.9 L341.2 461.9 L342.9 463.8 L344.7 464.2 L346.5 462.4 L348.3 465.7 L350 464 L351.8 464.3 L353.6 466.8 L355.3 466.1 L357.1 464.5 L358.9 463.8 L360.7 466.7 L362.4 463.4 L364.2 465.5 L366 463.9 L367.8 464.6 L367.8 488.3 L366 488 L364.2 487.4 L362.4 487.7 L360.7 488.8 L358.9 486.8 L357.1 486.2 L355.3 486.5 L353.6 485 L351.8 485.8 L350 482.1 L348.3 484 L346.5 483 L344.7 484.3 L342.9 481.4 L341.2 479 L339.4 480.4 L337.6 478.4 L335.8 480.5 L334.1 480.5 L332.3 480.9 L330.5 479.5 L328.7 477.3 L327 477.8 L325.2 476.6 L323.4 477.6 L321.7 478 L319.9 477.7 L318.1 477.7 L316.3 478.1 L314.6 479.4 L312.8 477.8 L311 476 L309.2 475.2 L307.5 475.5 L305.7 477.8 L303.9 475.4 L302.2 474.2 L300.4 473.1 L298.6 474.6 L296.8 475.3 L295.1 473.7 L293.3 472.1 L291.5 474.7 L289.7 472.8 L288 470.7 L286.2 469.4 L284.4 470 L282.7 468.1 L280.9 469 L279.1 466.4 L277.3 466.5 L275.6 468.6 L273.8 467.4 L272 466 L270.2 466.2 L268.5 466.9 L266.7 464.3 L264.9 464.7 L263.1 466.8 L261.4 465.8 L259.6 465.7 L257.8 466 L256.1 463.4 L254.3 462.3 L252.5 462.3 L250.7 464.6 L249 462.6 L247.2 463.6 L245.4 463.6 L243.6 460.4 L241.9 459.9 L240.1 463.9 L238.3 463.5 L236.6 463.6 L234.8 464.2 L233 464.5 L231.2 462.4 L229.5 461.4 L227.7 462.8 L225.9 460.6 L224.1 462.5 L222.4 460 L220.6 459.9 L218.8 459.4Z" fill="#EE2C2C" fill-opacity="0.1" stroke="none"/>
<path d="M218.8 455.2 L220.6 456.3 L222.4 455.9 L224.1 454.3 L225.9 455.6 L227.7 457.9 L229.5 457 L231.2 458.1 L233 454 L234.8 455 L236.6 455.9 L238.3 457.5 L240.1 457.2 L241.9 456.8 L243.6 456.5 L245.4 455.8 L247.2 458.3 L249 457.8 L250.7 457.9 L252.5 458.1 L254.3 456.5 L256.1 454.4 L257.8 455.6 L259.6 456.3 L261.4 456.1 L263.1 456.5 L264.9 453.7 L266.7 456 L268.5 456.9 L270.2 458.2 L272 458 L273.8 459.3 L275.6 460.2 L277.3 458.5 L279.1 457.6 L280.9 455 L282.7 458 L284.4 456.7 L286.2 455 L288 453 L289.7 457.2 L291.5 455.8 L293.3 454.2 L295.1 455 L296.8 457.3 L298.6 455.6 L300.4 457.3 L302.2 455.7 L303.9 457 L305.7 455.3 L307.5 453.9 L309.2 454.1 L311 454.3 L312.8 453.3 L314.6 453.5 L316.3 454.3 L318.1 454.6 L319.9 453.9 L321.7 455.5 L323.4 456.8 L325.2 454.5 L327 455.6 L328.7 455.4 L330.5 456.1 L332.3 457.2 L334.1 457 L335.8 456.4 L337.6 456.4 L339.4 456.5 L341.2 456.5 L342.9 455.4 L344.7 456.4 L346.5 455.4 L348.3 454.2 L350 456.8 L351.8 453.2 L353.6 453.1 L355.3 454.6 L357.1 455 L358.9 457.1 L360.7 454.7 L362.4 454 L364.2 453 L366 454 L367.8 452.5 L367.8 471.4 L366 471.1 L364.2 470.8 L362.4 469.4 L360.7 468.5 L358.9 467.1 L357.1 468.4 L355.3 468.3 L353.6 470.9 L351.8 470.7 L350 472.1 L348.3 470.9 L346.5 469.6 L344.7 470.4 L342.9 468.3 L341.2 467.8 L339.4 466.5 L337.6 466.9 L335.8 467 L334.1 469.9 L332.3 469.2 L330.5 469.7 L328.7 467.5 L327 469.4 L325.2 466.9 L323.4 468.2 L321.7 465.2 L319.9 466.3 L318.1 465.3 L316.3 467.2 L314.6 465.9 L312.8 468.1 L311 468.3 L309.2 467.3 L307.5 466.5 L305.7 465.7 L303.9 465.7 L302.2 466 L300.4 467.5 L298.6 465.9 L296.8 465.7 L295.1 465 L293.3 467 L291.5 466.1 L289.7 466.8 L288 466.9 L286.2 465.6 L284.4 465.5 L282.7 466 L280.9 466.9 L279.1 462.7 L277.3 464.9 L275.6 463 L273.8 464 L272 465.1 L270.2 466.8 L268.5 463.5 L266.7 462.1 L264.9 465.1 L263.1 461.6 L261.4 459.6 L259.6 458.8 L257.8 460.4 L256.1 460.1 L254.3 463.8 L252.5 463 L250.7 462.8 L249 461.3 L247.2 463.4 L245.4 463.5 L243.6 464.5 L241.9 463.2 L240.1 461.4 L238.3 460.3 L236.6 460.4 L234.8 462.7 L233 460.1 L231.2 463.3 L229.5 461.8 L227.7 461 L225.9 459.6 L224.1 459.9 L222.4 461 L220.6 461.2 L218.8 460.5Z" fill="#4A8FF0" fill-opacity="0.13" stroke="none"/>
<path d="M218.8 455.2 L220.6 456.3 L222.4 455.9 L224.1 454.3 L225.9 455.6 L227.7 457.9 L229.5 457 L231.2 458.1 L233 454 L234.8 455 L236.6 455.9 L238.3 457.5 L240.1 457.2 L241.9 456.8 L243.6 456.5 L245.4 455.8 L247.2 458.3 L249 457.8 L250.7 457.9 L252.5 458.1 L254.3 456.5 L256.1 454.4 L257.8 455.6 L259.6 456.3 L261.4 456.1 L263.1 456.5 L264.9 453.7 L266.7 456 L268.5 456.9 L270.2 458.2 L272 458 L273.8 459.3 L275.6 460.2 L277.3 458.5 L279.1 457.6 L280.9 455 L282.7 458 L284.4 456.7 L286.2 455 L288 453 L289.7 457.2 L291.5 455.8 L293.3 454.2 L295.1 455 L296.8 457.3 L298.6 455.6 L300.4 457.3 L302.2 455.7 L303.9 457 L305.7 455.3 L307.5 453.9 L309.2 454.1 L311 454.3 L312.8 453.3 L314.6 453.5 L316.3 454.3 L318.1 454.6 L319.9 453.9 L321.7 455.5 L323.4 456.8 L325.2 454.5 L327 455.6 L328.7 455.4 L330.5 456.1 L332.3 457.2 L334.1 457 L335.8 456.4 L337.6 456.4 L339.4 456.5 L341.2 456.5 L342.9 455.4 L344.7 456.4 L346.5 455.4 L348.3 454.2 L350 456.8 L351.8 453.2 L353.6 453.1 L355.3 454.6 L357.1 455 L358.9 457.1 L360.7 454.7 L362.4 454 L364.2 453 L366 454 L367.8 452.5" fill="none" stroke="#4A8FF0" stroke-width="1.15" stroke-linejoin="round" stroke-opacity="1"/>
<path d="M218.8 460.5 L220.6 461.2 L222.4 461 L224.1 459.9 L225.9 459.6 L227.7 461 L229.5 461.8 L231.2 463.3 L233 460.1 L234.8 462.7 L236.6 460.4 L238.3 460.3 L240.1 461.4 L241.9 463.2 L243.6 464.5 L245.4 463.5 L247.2 463.4 L249 461.3 L250.7 462.8 L252.5 463 L254.3 463.8 L256.1 460.1 L257.8 460.4 L259.6 458.8 L261.4 459.6 L263.1 461.6 L264.9 465.1 L266.7 462.1 L268.5 463.5 L270.2 466.8 L272 465.1 L273.8 464 L275.6 463 L277.3 464.9 L279.1 462.7 L280.9 466.9 L282.7 466 L284.4 465.5 L286.2 465.6 L288 466.9 L289.7 466.8 L291.5 466.1 L293.3 467 L295.1 465 L296.8 465.7 L298.6 465.9 L300.4 467.5 L302.2 466 L303.9 465.7 L305.7 465.7 L307.5 466.5 L309.2 467.3 L311 468.3 L312.8 468.1 L314.6 465.9 L316.3 467.2 L318.1 465.3 L319.9 466.3 L321.7 465.2 L323.4 468.2 L325.2 466.9 L327 469.4 L328.7 467.5 L330.5 469.7 L332.3 469.2 L334.1 469.9 L335.8 467 L337.6 466.9 L339.4 466.5 L341.2 467.8 L342.9 468.3 L344.7 470.4 L346.5 469.6 L348.3 470.9 L350 472.1 L351.8 470.7 L353.6 470.9 L355.3 468.3 L357.1 468.4 L358.9 467.1 L360.7 468.5 L362.4 469.4 L364.2 470.8 L366 471.1 L367.8 471.4" fill="none" stroke="#4A8FF0" stroke-width="1.15" stroke-linejoin="round" stroke-opacity="1"/>
<path d="M218.8 452.1 L220.6 455.2 L222.4 454.2 L224.1 451.8 L225.9 452.7 L227.7 452 L229.5 454.7 L231.2 454.8 L233 454.5 L234.8 453.7 L236.6 454.6 L238.3 452.6 L240.1 453.9 L241.9 456.5 L243.6 453.7 L245.4 454.7 L247.2 453.3 L249 453.8 L250.7 456.6 L252.5 455.5 L254.3 456.5 L256.1 455.2 L257.8 455.9 L259.6 456.6 L261.4 457.2 L263.1 456.8 L264.9 455.6 L266.7 455.5 L268.5 458.4 L270.2 457.4 L272 455.5 L273.8 455.4 L275.6 459.2 L277.3 457.8 L279.1 457.2 L280.9 457.1 L282.7 457.9 L284.4 457.3 L286.2 458 L288 456 L289.7 457.3 L291.5 459.9 L293.3 460.7 L295.1 460.6 L296.8 459.2 L298.6 459 L300.4 458.8 L302.2 460.9 L303.9 458 L305.7 460.2 L307.5 461 L309.2 462.4 L311 463.8 L312.8 460.4 L314.6 460.2 L316.3 463.6 L318.1 463 L319.9 463.3 L321.7 460.7 L323.4 463.2 L325.2 465.2 L327 465.5 L328.7 463.5 L330.5 464.7 L332.3 464.6 L334.1 464.7 L335.8 462.7 L337.6 463.2 L339.4 461.9 L341.2 461.9 L342.9 463.8 L344.7 464.2 L346.5 462.4 L348.3 465.7 L350 464 L351.8 464.3 L353.6 466.8 L355.3 466.1 L357.1 464.5 L358.9 463.8 L360.7 466.7 L362.4 463.4 L364.2 465.5 L366 463.9 L367.8 464.6" fill="none" stroke="#EE2C2C" stroke-width="1.15" stroke-linejoin="round" stroke-opacity="1"/>
<path d="M218.8 459.4 L220.6 459.9 L222.4 460 L224.1 462.5 L225.9 460.6 L227.7 462.8 L229.5 461.4 L231.2 462.4 L233 464.5 L234.8 464.2 L236.6 463.6 L238.3 463.5 L240.1 463.9 L241.9 459.9 L243.6 460.4 L245.4 463.6 L247.2 463.6 L249 462.6 L250.7 464.6 L252.5 462.3 L254.3 462.3 L256.1 463.4 L257.8 466 L259.6 465.7 L261.4 465.8 L263.1 466.8 L264.9 464.7 L266.7 464.3 L268.5 466.9 L270.2 466.2 L272 466 L273.8 467.4 L275.6 468.6 L277.3 466.5 L279.1 466.4 L280.9 469 L282.7 468.1 L284.4 470 L286.2 469.4 L288 470.7 L289.7 472.8 L291.5 474.7 L293.3 472.1 L295.1 473.7 L296.8 475.3 L298.6 474.6 L300.4 473.1 L302.2 474.2 L303.9 475.4 L305.7 477.8 L307.5 475.5 L309.2 475.2 L311 476 L312.8 477.8 L314.6 479.4 L316.3 478.1 L318.1 477.7 L319.9 477.7 L321.7 478 L323.4 477.6 L325.2 476.6 L327 477.8 L328.7 477.3 L330.5 479.5 L332.3 480.9 L334.1 480.5 L335.8 480.5 L337.6 478.4 L339.4 480.4 L341.2 479 L342.9 481.4 L344.7 484.3 L346.5 483 L348.3 484 L350 482.1 L351.8 485.8 L353.6 485 L355.3 486.5 L357.1 486.2 L358.9 486.8 L360.7 488.8 L362.4 487.7 L364.2 487.4 L366 488 L367.8 488.3" fill="none" stroke="#EE2C2C" stroke-width="1.15" stroke-linejoin="round" stroke-opacity="1"/>
<path d="M218.8 457.3 L220.6 455.7 L222.4 457.3 L224.1 458.9 L225.9 457 L227.7 458.1 L229.5 457.5 L231.2 457.8 L233 458.8 L234.8 458.8 L236.6 458.4 L238.3 458.1 L240.1 458.6 L241.9 457.8 L243.6 458.4 L245.4 459.5 L247.2 460.3 L249 458.4 L250.7 460 L252.5 460 L254.3 460.2 L256.1 457.4 L257.8 457.5 L259.6 458.1 L261.4 458.2 L263.1 457.2 L264.9 459.4 L266.7 460.8 L268.5 459.3 L270.2 461.6 L272 461.2 L273.8 461.4 L275.6 459.2 L277.3 461.2 L279.1 460.5 L280.9 460 L282.7 461.2 L284.4 459 L286.2 461 L288 460.3 L289.7 460.6 L291.5 459.9 L293.3 461.7 L295.1 461.9 L296.8 462.2 L298.6 461.3 L300.4 461.4 L302.2 462.8 L303.9 461.1 L305.7 461.5 L307.5 460.8 L309.2 460.7 L311 461.7 L312.8 462 L314.6 462.4 L316.3 461.8 L318.1 462.8 L319.9 462.9 L321.7 463.6 L323.4 463.7 L325.2 464 L327 462.2 L328.7 462.4 L330.5 461.5 L332.3 464.3 L334.1 464 L335.8 462 L337.6 461.3 L339.4 460.9 L341.2 462.1 L342.9 462.9 L344.7 461.5 L346.5 462.2 L348.3 462.9 L350 463.2 L351.8 462.8 L353.6 462.9 L355.3 463.2 L357.1 462 L358.9 461.7 L360.7 459.7 L362.4 461.2 L364.2 461.5 L366 461.1 L367.8 460.7" fill="none" stroke="#4A8FF0" stroke-width="4.2" stroke-linejoin="round" stroke-opacity="1"/>
<path d="M218.8 457.9 L220.6 456.9 L222.4 458.5 L224.1 460 L225.9 459.6 L227.7 457.9 L229.5 460.9 L231.2 459.9 L233 459 L234.8 460.7 L236.6 458.7 L238.3 460.7 L240.1 459.1 L241.9 461.3 L243.6 458.3 L245.4 460.1 L247.2 459.4 L249 460.7 L250.7 459.7 L252.5 461.2 L254.3 460.8 L256.1 459.8 L257.8 463 L259.6 462 L261.4 460.7 L263.1 461.1 L264.9 462.9 L266.7 462.5 L268.5 461.7 L270.2 462.8 L272 463.9 L273.8 465 L275.6 462.2 L277.3 464.4 L279.1 462.8 L280.9 463.7 L282.7 466.8 L284.4 465.9 L286.2 464.9 L288 465 L289.7 464.8 L291.5 466.5 L293.3 467 L295.1 465.2 L296.8 466.9 L298.6 468.1 L300.4 468.1 L302.2 467.6 L303.9 468.8 L305.7 467.3 L307.5 467.1 L309.2 468.2 L311 469.1 L312.8 469.1 L314.6 470.6 L316.3 470 L318.1 468.3 L319.9 469 L321.7 470.9 L323.4 469.1 L325.2 469.3 L327 472.7 L328.7 471.6 L330.5 471.9 L332.3 472.3 L334.1 472.2 L335.8 472.6 L337.6 473.4 L339.4 472.5 L341.2 475.5 L342.9 475.3 L344.7 473.5 L346.5 473.9 L348.3 474.1 L350 474.9 L351.8 474.5 L353.6 476.1 L355.3 475.2 L357.1 475.3 L358.9 475.3 L360.7 475.1 L362.4 474.8 L364.2 474.8 L366 476.9 L367.8 478.4" fill="none" stroke="#EE2C2C" stroke-width="4.2" stroke-linejoin="round" stroke-opacity="1"/>
<rect x="393.6" y="431.2" width="289.9" height="182.8" fill="#fff"/>
<path d="M406 431.2V614M419.3 431.2V614M432.5 431.2V614M445.8 431.2V614M459 431.2V614M472.3 431.2V614M485.5 431.2V614M498.8 431.2V614M512 431.2V614M525.3 431.2V614M538.5 431.2V614M551.8 431.2V614M565 431.2V614M578.3 431.2V614M591.5 431.2V614M604.8 431.2V614M618 431.2V614M631.3 431.2V614M644.5 431.2V614M657.8 431.2V614M671 431.2V614M393.6 594.7H683.5M393.6 574.7H683.5M393.6 554.7H683.5M393.6 534.7H683.5M393.6 514.7H683.5M393.6 494.7H683.5M393.6 474.7H683.5M393.6 454.7H683.5M393.6 434.7H683.5" stroke="#EBEBEB" stroke-width="1.5" fill="none"/>
<path d="M393.6 454.7H683.5" stroke="#4D4D4D" stroke-width="3.25" stroke-dasharray="3.25 9.75 13 9.75" fill="none"/>
<path d="M420 454.4 L421.8 454.2 L423.5 455.2 L425.3 454.8 L427.1 456.3 L428.8 456.1 L430.6 457.1 L432.4 456.6 L434.1 458.6 L435.9 459.1 L437.7 459.5 L439.4 460 L441.2 459.8 L443 459.7 L444.7 460.9 L446.5 463.8 L448.3 464.3 L450 463.9 L451.8 465.7 L453.6 467.3 L455.3 468.5 L457.1 468.9 L458.9 472 L460.6 476 L462.4 477.4 L464.1 477 L465.9 476.7 L467.7 475.8 L469.4 474 L471.2 475.9 L473 480.2 L474.7 485.6 L476.5 489.5 L478.3 492.2 L480 493.5 L481.8 494.6 L483.6 498 L485.3 500.4 L487.1 503.4 L488.9 505.9 L490.6 508.2 L492.4 509.9 L494.2 513.3 L495.9 514.7 L497.7 517.7 L499.5 519.2 L501.2 520.6 L503 522.1 L504.8 524 L506.5 525.7 L508.3 528.6 L510.1 531.4 L511.8 533.9 L513.6 536.5 L515.4 537 L517.1 536.9 L518.9 538.6 L520.7 538.8 L520.7 569.3 L518.9 567.9 L517.1 565.7 L515.4 564.4 L513.6 562.3 L511.8 560 L510.1 558.8 L508.3 556 L506.5 554.1 L504.8 552.4 L503 549.7 L501.2 547.7 L499.5 545.7 L497.7 543.9 L495.9 541.6 L494.2 538.5 L492.4 535.8 L490.6 534.3 L488.9 531.4 L487.1 527.7 L485.3 524.3 L483.6 522.7 L481.8 519.2 L480 516.6 L478.3 514.9 L476.5 512.2 L474.7 509.7 L473 506.8 L471.2 503.7 L469.4 501.9 L467.7 499.5 L465.9 498.2 L464.1 496.2 L462.4 494.4 L460.6 491.6 L458.9 488.1 L457.1 485 L455.3 483.2 L453.6 481.2 L451.8 478.5 L450 476.5 L448.3 474.7 L446.5 472.6 L444.7 470.4 L443 468.2 L441.2 465.9 L439.4 464.9 L437.7 464.2 L435.9 463.2 L434.1 461.3 L432.4 461.4 L430.6 460.1 L428.8 459.2 L427.1 458.9 L425.3 457.8 L423.5 457.9 L421.8 456.7 L420 456.7Z" fill="#808080" fill-opacity="0.12" stroke="none"/>
<path d="M420 454.4 L421.8 454.2 L423.5 455.2 L425.3 454.8 L427.1 456.3 L428.8 456.1 L430.6 457.1 L432.4 456.6 L434.1 458.6 L435.9 459.1 L437.7 459.5 L439.4 460 L441.2 459.8 L443 459.7 L444.7 460.9 L446.5 463.8 L448.3 464.3 L450 463.9 L451.8 465.7 L453.6 467.3 L455.3 468.5 L457.1 468.9 L458.9 472 L460.6 476 L462.4 477.4 L464.1 477 L465.9 476.7 L467.7 475.8 L469.4 474 L471.2 475.9 L473 480.2 L474.7 485.6 L476.5 489.5 L478.3 492.2 L480 493.5 L481.8 494.6 L483.6 498 L485.3 500.4 L487.1 503.4 L488.9 505.9 L490.6 508.2 L492.4 509.9 L494.2 513.3 L495.9 514.7 L497.7 517.7 L499.5 519.2 L501.2 520.6 L503 522.1 L504.8 524 L506.5 525.7 L508.3 528.6 L510.1 531.4 L511.8 533.9 L513.6 536.5 L515.4 537 L517.1 536.9 L518.9 538.6 L520.7 538.8" fill="none" stroke="#5E5E5E" stroke-width="1.05" stroke-linejoin="round" stroke-opacity="1"/>
<path d="M420 456.7 L421.8 456.7 L423.5 457.9 L425.3 457.8 L427.1 458.9 L428.8 459.2 L430.6 460.1 L432.4 461.4 L434.1 461.3 L435.9 463.2 L437.7 464.2 L439.4 464.9 L441.2 465.9 L443 468.2 L444.7 470.4 L446.5 472.6 L448.3 474.7 L450 476.5 L451.8 478.5 L453.6 481.2 L455.3 483.2 L457.1 485 L458.9 488.1 L460.6 491.6 L462.4 494.4 L464.1 496.2 L465.9 498.2 L467.7 499.5 L469.4 501.9 L471.2 503.7 L473 506.8 L474.7 509.7 L476.5 512.2 L478.3 514.9 L480 516.6 L481.8 519.2 L483.6 522.7 L485.3 524.3 L487.1 527.7 L488.9 531.4 L490.6 534.3 L492.4 535.8 L494.2 538.5 L495.9 541.6 L497.7 543.9 L499.5 545.7 L501.2 547.7 L503 549.7 L504.8 552.4 L506.5 554.1 L508.3 556 L510.1 558.8 L511.8 560 L513.6 562.3 L515.4 564.4 L517.1 565.7 L518.9 567.9 L520.7 569.3" fill="none" stroke="#5E5E5E" stroke-width="1.05" stroke-linejoin="round" stroke-opacity="1"/>
<path d="M406 453.7 L407.8 453.2 L409.5 453.1 L411.3 454 L413.1 454.3 L414.8 455.1 L416.6 454.9 L418.3 456.2 L420.1 455.9 L421.9 457 L423.6 456.1 L425.4 456.4 L427.2 456.2 L428.9 457.5 L430.7 459.4 L432.5 461.1 L434.2 460.5 L436 461.5 L437.8 462.5 L439.5 463.5 L441.3 463.8 L443 465.5 L444.8 466.7 L446.6 468.6 L448.3 469.3 L450.1 470.6 L451.9 471.9 L453.6 472.6 L455.4 474.6 L457.2 477.2 L458.9 480.4 L460.7 482.4 L462.4 484.8 L464.2 487.1 L466 488.9 L467.7 488.8 L469.5 487.6 L471.3 489 L473 492.6 L474.8 495.9 L476.6 499.8 L478.3 501 L480.1 504.6 L481.9 507.2 L483.6 509.7 L485.4 511.3 L487.1 514 L488.9 517.2 L490.7 518.9 L492.4 521.2 L494.2 523.8 L496 526.9 L497.7 528.8 L499.5 532 L501.3 533.4 L503 536.2 L504.8 537.5 L506.5 539.7 L508.3 541.3 L510.1 544.6 L511.8 545.3 L513.6 547.6 L515.4 550.2 L517.1 551.3 L518.9 553.2 L520.7 556" fill="none" stroke="#808080" stroke-width="4.2" stroke-linejoin="round" stroke-opacity="1"/>
<path d="M522.1 540.9 L523.8 541.4 L525.6 541.8 L527.4 542.9 L529.2 541.7 L530.9 543.5 L532.7 543.4 L534.5 543.4 L536.3 542.3 L538 544.5 L539.8 545.2 L541.6 544.8 L543.3 546.2 L545.1 545.8 L546.9 545.8 L548.7 544.5 L550.4 545.7 L552.2 546.3 L554 547.1 L555.8 547.2 L557.5 548.2 L559.3 547 L561.1 548.4 L562.9 547.9 L564.6 547.9 L566.4 548.4 L568.2 548.5 L569.9 548.8 L571.7 547.5 L573.5 547 L575.3 548 L577 545.9 L578.8 546.3 L580.6 547.7 L582.4 548.4 L584.1 547 L585.9 547.9 L587.7 546.6 L589.4 547.4 L591.2 547.2 L593 546.5 L594.8 547.2 L596.5 547.8 L598.3 548 L600.1 547.5 L601.9 548 L603.6 546.5 L605.4 547.6 L607.2 547.6 L608.9 546.9 L610.7 547.9 L612.5 547.2 L614.3 546.6 L616 546.6 L617.8 546.2 L619.6 547 L621.4 546.6 L623.1 547.6 L624.9 548 L626.7 546.9 L628.5 546.2 L630.2 546.7 L632 547.4 L633.8 547.7 L635.5 546.5 L637.3 547 L639.1 547.2 L640.9 548.3 L642.6 546.3 L644.4 547 L646.2 547.7 L648 546.7 L649.7 546.9 L651.5 546.7 L653.3 546.1 L655 547.2 L656.8 547.6 L658.6 546.1 L660.4 546.5 L662.1 546.8 L663.9 545.7 L665.7 545.5 L667.5 546.9 L669.2 547.6 L671 546 L671 579.8 L669.2 579 L667.5 578.4 L665.7 579 L663.9 578 L662.1 578.6 L660.4 579 L658.6 578.4 L656.8 578.3 L655 579.4 L653.3 578.4 L651.5 578.2 L649.7 577.9 L648 578.9 L646.2 578.3 L644.4 577.5 L642.6 577.8 L640.9 577.1 L639.1 578.8 L637.3 578.2 L635.5 578.6 L633.8 577.7 L632 576.9 L630.2 577.3 L628.5 577.5 L626.7 577.3 L624.9 577.3 L623.1 577.9 L621.4 578.8 L619.6 577.1 L617.8 577.5 L616 577.1 L614.3 576.8 L612.5 577.8 L610.7 577.9 L608.9 578.4 L607.2 577.1 L605.4 577.4 L603.6 578.3 L601.9 578.5 L600.1 577.7 L598.3 578 L596.5 579 L594.8 578.2 L593 577 L591.2 578.1 L589.4 579.3 L587.7 578.4 L585.9 577.6 L584.1 578.5 L582.4 578.2 L580.6 579 L578.8 578.3 L577 577.1 L575.3 578.3 L573.5 577.1 L571.7 576.7 L569.9 576.7 L568.2 577.6 L566.4 577.5 L564.6 578.4 L562.9 578.5 L561.1 577.7 L559.3 578.7 L557.5 577.5 L555.8 575.8 L554 576.8 L552.2 576.3 L550.4 576.2 L548.7 576.1 L546.9 576.3 L545.1 575.1 L543.3 574.9 L541.6 575.3 L539.8 574.3 L538 574 L536.3 574.2 L534.5 574 L532.7 573 L530.9 573.3 L529.2 572.8 L527.4 572.2 L525.6 572.4 L523.8 572.1 L522.1 571.2Z" fill="#EE2C2C" fill-opacity="0.1" stroke="none"/>
<path d="M522.1 540.5 L523.8 540.4 L525.6 541.1 L527.4 542.5 L529.2 543.3 L530.9 544.1 L532.7 544.2 L534.5 544.7 L536.3 544.4 L538 545.1 L539.8 545.7 L541.6 545.8 L543.3 547.7 L545.1 546.7 L546.9 548 L548.7 546.5 L550.4 548 L552.2 547.1 L554 547.2 L555.8 546.7 L557.5 547.1 L559.3 545.9 L561.1 547.1 L562.9 547.5 L564.6 546.8 L566.4 547.7 L568.2 547.2 L569.9 548 L571.7 548.1 L573.5 546.9 L575.3 547.7 L577 547.1 L578.8 548.8 L580.6 548.5 L582.4 547 L584.1 548.1 L585.9 548.4 L587.7 548.1 L589.4 546.9 L591.2 546.5 L593 546.8 L594.8 547.9 L596.5 547.7 L598.3 547.6 L600.1 548 L601.9 546.7 L603.6 547.9 L605.4 546.9 L607.2 548.6 L608.9 547.7 L610.7 546.6 L612.5 547.9 L614.3 547 L616 547.1 L617.8 548.1 L619.6 546.9 L621.4 548.5 L623.1 547.2 L624.9 548.3 L626.7 546.8 L628.5 548.1 L630.2 547.6 L632 547.6 L633.8 546.8 L635.5 547.1 L637.3 548.2 L639.1 548.2 L640.9 547.7 L642.6 547.4 L644.4 547.7 L646.2 545.8 L648 545.7 L649.7 546.8 L651.5 546.6 L653.3 546.4 L655 547.4 L656.8 545.5 L658.6 546.4 L660.4 546.3 L662.1 546.9 L663.9 545.4 L665.7 545.2 L667.5 545.5 L669.2 546.2 L671 545 L671 574.2 L669.2 573.6 L667.5 573.3 L665.7 573.4 L663.9 574 L662.1 574.3 L660.4 574.6 L658.6 573.7 L656.8 574.1 L655 574.5 L653.3 575.3 L651.5 575.1 L649.7 574.6 L648 575.3 L646.2 576.5 L644.4 576.9 L642.6 575.9 L640.9 575.1 L639.1 577 L637.3 577.1 L635.5 577.3 L633.8 577.2 L632 576.5 L630.2 577.3 L628.5 575.8 L626.7 577.2 L624.9 577.4 L623.1 578.6 L621.4 578.4 L619.6 577.5 L617.8 578.3 L616 578.7 L614.3 578.1 L612.5 578.3 L610.7 577 L608.9 577.7 L607.2 577.4 L605.4 577.1 L603.6 576.8 L601.9 577 L600.1 576.4 L598.3 576.5 L596.5 577 L594.8 576.7 L593 576.7 L591.2 576.9 L589.4 576.1 L587.7 577.8 L585.9 579 L584.1 578.2 L582.4 578.8 L580.6 578.2 L578.8 577.6 L577 578.5 L575.3 578.2 L573.5 576.9 L571.7 577.4 L569.9 576.8 L568.2 577.4 L566.4 577.9 L564.6 578.6 L562.9 576.7 L561.1 577.6 L559.3 576.7 L557.5 577.3 L555.8 576.8 L554 576 L552.2 577.9 L550.4 577.2 L548.7 576.1 L546.9 577.2 L545.1 576.5 L543.3 575.9 L541.6 575.6 L539.8 576.1 L538 575.2 L536.3 575.6 L534.5 575.3 L532.7 573.7 L530.9 574.2 L529.2 572.7 L527.4 573.2 L525.6 573 L523.8 571.6 L522.1 570.5Z" fill="#4A8FF0" fill-opacity="0.13" stroke="none"/>
<path d="M522.1 540.5 L523.8 540.4 L525.6 541.1 L527.4 542.5 L529.2 543.3 L530.9 544.1 L532.7 544.2 L534.5 544.7 L536.3 544.4 L538 545.1 L539.8 545.7 L541.6 545.8 L543.3 547.7 L545.1 546.7 L546.9 548 L548.7 546.5 L550.4 548 L552.2 547.1 L554 547.2 L555.8 546.7 L557.5 547.1 L559.3 545.9 L561.1 547.1 L562.9 547.5 L564.6 546.8 L566.4 547.7 L568.2 547.2 L569.9 548 L571.7 548.1 L573.5 546.9 L575.3 547.7 L577 547.1 L578.8 548.8 L580.6 548.5 L582.4 547 L584.1 548.1 L585.9 548.4 L587.7 548.1 L589.4 546.9 L591.2 546.5 L593 546.8 L594.8 547.9 L596.5 547.7 L598.3 547.6 L600.1 548 L601.9 546.7 L603.6 547.9 L605.4 546.9 L607.2 548.6 L608.9 547.7 L610.7 546.6 L612.5 547.9 L614.3 547 L616 547.1 L617.8 548.1 L619.6 546.9 L621.4 548.5 L623.1 547.2 L624.9 548.3 L626.7 546.8 L628.5 548.1 L630.2 547.6 L632 547.6 L633.8 546.8 L635.5 547.1 L637.3 548.2 L639.1 548.2 L640.9 547.7 L642.6 547.4 L644.4 547.7 L646.2 545.8 L648 545.7 L649.7 546.8 L651.5 546.6 L653.3 546.4 L655 547.4 L656.8 545.5 L658.6 546.4 L660.4 546.3 L662.1 546.9 L663.9 545.4 L665.7 545.2 L667.5 545.5 L669.2 546.2 L671 545" fill="none" stroke="#4A8FF0" stroke-width="1.15" stroke-linejoin="round" stroke-opacity="1"/>
<path d="M522.1 570.5 L523.8 571.6 L525.6 573 L527.4 573.2 L529.2 572.7 L530.9 574.2 L532.7 573.7 L534.5 575.3 L536.3 575.6 L538 575.2 L539.8 576.1 L541.6 575.6 L543.3 575.9 L545.1 576.5 L546.9 577.2 L548.7 576.1 L550.4 577.2 L552.2 577.9 L554 576 L555.8 576.8 L557.5 577.3 L559.3 576.7 L561.1 577.6 L562.9 576.7 L564.6 578.6 L566.4 577.9 L568.2 577.4 L569.9 576.8 L571.7 577.4 L573.5 576.9 L575.3 578.2 L577 578.5 L578.8 577.6 L580.6 578.2 L582.4 578.8 L584.1 578.2 L585.9 579 L587.7 577.8 L589.4 576.1 L591.2 576.9 L593 576.7 L594.8 576.7 L596.5 577 L598.3 576.5 L600.1 576.4 L601.9 577 L603.6 576.8 L605.4 577.1 L607.2 577.4 L608.9 577.7 L610.7 577 L612.5 578.3 L614.3 578.1 L616 578.7 L617.8 578.3 L619.6 577.5 L621.4 578.4 L623.1 578.6 L624.9 577.4 L626.7 577.2 L628.5 575.8 L630.2 577.3 L632 576.5 L633.8 577.2 L635.5 577.3 L637.3 577.1 L639.1 577 L640.9 575.1 L642.6 575.9 L644.4 576.9 L646.2 576.5 L648 575.3 L649.7 574.6 L651.5 575.1 L653.3 575.3 L655 574.5 L656.8 574.1 L658.6 573.7 L660.4 574.6 L662.1 574.3 L663.9 574 L665.7 573.4 L667.5 573.3 L669.2 573.6 L671 574.2" fill="none" stroke="#4A8FF0" stroke-width="1.15" stroke-linejoin="round" stroke-opacity="1"/>
<path d="M522.1 540.9 L523.8 541.4 L525.6 541.8 L527.4 542.9 L529.2 541.7 L530.9 543.5 L532.7 543.4 L534.5 543.4 L536.3 542.3 L538 544.5 L539.8 545.2 L541.6 544.8 L543.3 546.2 L545.1 545.8 L546.9 545.8 L548.7 544.5 L550.4 545.7 L552.2 546.3 L554 547.1 L555.8 547.2 L557.5 548.2 L559.3 547 L561.1 548.4 L562.9 547.9 L564.6 547.9 L566.4 548.4 L568.2 548.5 L569.9 548.8 L571.7 547.5 L573.5 547 L575.3 548 L577 545.9 L578.8 546.3 L580.6 547.7 L582.4 548.4 L584.1 547 L585.9 547.9 L587.7 546.6 L589.4 547.4 L591.2 547.2 L593 546.5 L594.8 547.2 L596.5 547.8 L598.3 548 L600.1 547.5 L601.9 548 L603.6 546.5 L605.4 547.6 L607.2 547.6 L608.9 546.9 L610.7 547.9 L612.5 547.2 L614.3 546.6 L616 546.6 L617.8 546.2 L619.6 547 L621.4 546.6 L623.1 547.6 L624.9 548 L626.7 546.9 L628.5 546.2 L630.2 546.7 L632 547.4 L633.8 547.7 L635.5 546.5 L637.3 547 L639.1 547.2 L640.9 548.3 L642.6 546.3 L644.4 547 L646.2 547.7 L648 546.7 L649.7 546.9 L651.5 546.7 L653.3 546.1 L655 547.2 L656.8 547.6 L658.6 546.1 L660.4 546.5 L662.1 546.8 L663.9 545.7 L665.7 545.5 L667.5 546.9 L669.2 547.6 L671 546" fill="none" stroke="#EE2C2C" stroke-width="1.15" stroke-linejoin="round" stroke-opacity="1"/>
<path d="M522.1 571.2 L523.8 572.1 L525.6 572.4 L527.4 572.2 L529.2 572.8 L530.9 573.3 L532.7 573 L534.5 574 L536.3 574.2 L538 574 L539.8 574.3 L541.6 575.3 L543.3 574.9 L545.1 575.1 L546.9 576.3 L548.7 576.1 L550.4 576.2 L552.2 576.3 L554 576.8 L555.8 575.8 L557.5 577.5 L559.3 578.7 L561.1 577.7 L562.9 578.5 L564.6 578.4 L566.4 577.5 L568.2 577.6 L569.9 576.7 L571.7 576.7 L573.5 577.1 L575.3 578.3 L577 577.1 L578.8 578.3 L580.6 579 L582.4 578.2 L584.1 578.5 L585.9 577.6 L587.7 578.4 L589.4 579.3 L591.2 578.1 L593 577 L594.8 578.2 L596.5 579 L598.3 578 L600.1 577.7 L601.9 578.5 L603.6 578.3 L605.4 577.4 L607.2 577.1 L608.9 578.4 L610.7 577.9 L612.5 577.8 L614.3 576.8 L616 577.1 L617.8 577.5 L619.6 577.1 L621.4 578.8 L623.1 577.9 L624.9 577.3 L626.7 577.3 L628.5 577.5 L630.2 577.3 L632 576.9 L633.8 577.7 L635.5 578.6 L637.3 578.2 L639.1 578.8 L640.9 577.1 L642.6 577.8 L644.4 577.5 L646.2 578.3 L648 578.9 L649.7 577.9 L651.5 578.2 L653.3 578.4 L655 579.4 L656.8 578.3 L658.6 578.4 L660.4 579 L662.1 578.6 L663.9 578 L665.7 579 L667.5 578.4 L669.2 579 L671 579.8" fill="none" stroke="#EE2C2C" stroke-width="1.15" stroke-linejoin="round" stroke-opacity="1"/>
<path d="M522.1 558.4 L523.8 557.9 L525.6 558.7 L527.4 558.3 L529.2 558.7 L530.9 560.2 L532.7 559 L534.5 560.3 L536.3 559.5 L538 560.2 L539.8 560.8 L541.6 561 L543.3 561.2 L545.1 560.3 L546.9 560.4 L548.7 560.4 L550.4 560.7 L552.2 560.8 L554 561.1 L555.8 561.9 L557.5 562.8 L559.3 562.8 L561.1 562.5 L562.9 562.3 L564.6 562.4 L566.4 564 L568.2 563 L569.9 562.6 L571.7 563.2 L573.5 562.5 L575.3 562.5 L577 562.3 L578.8 563 L580.6 563.1 L582.4 561.7 L584.1 562.3 L585.9 562.5 L587.7 563 L589.4 562.4 L591.2 561.8 L593 561.5 L594.8 562.2 L596.5 562.6 L598.3 561.6 L600.1 561 L601.9 561.7 L603.6 562.5 L605.4 561.4 L607.2 561.9 L608.9 560.4 L610.7 560.5 L612.5 561.7 L614.3 561.7 L616 562.2 L617.8 562.2 L619.6 561.7 L621.4 562 L623.1 562.2 L624.9 560.9 L626.7 561.5 L628.5 561 L630.2 560.8 L632 562.2 L633.8 562 L635.5 561.6 L637.3 562.3 L639.1 561.7 L640.9 562.1 L642.6 562.5 L644.4 563.5 L646.2 561.7 L648 562.2 L649.7 561 L651.5 560.1 L653.3 559.6 L655 560.3 L656.8 561.3 L658.6 560.1 L660.4 560.3 L662.1 559.4 L663.9 560.4 L665.7 560.6 L667.5 558.8 L669.2 559.5 L671 560.5" fill="none" stroke="#4A8FF0" stroke-width="4.2" stroke-linejoin="round" stroke-opacity="1"/>
<path d="M522.1 558 L523.8 557.7 L525.6 557.4 L527.4 558.5 L529.2 558 L530.9 558 L532.7 558.1 L534.5 558.4 L536.3 559 L538 559.2 L539.8 559.8 L541.6 559.4 L543.3 558.8 L545.1 559.4 L546.9 561 L548.7 561.2 L550.4 561.8 L552.2 560.4 L554 559.9 L555.8 561.6 L557.5 562 L559.3 560.7 L561.1 561.9 L562.9 563 L564.6 563.9 L566.4 563.8 L568.2 562.8 L569.9 563.4 L571.7 562.8 L573.5 564 L575.3 562.8 L577 562.6 L578.8 563.4 L580.6 561.7 L582.4 561.8 L584.1 562.8 L585.9 560.5 L587.7 560.4 L589.4 561.1 L591.2 561.6 L593 561.9 L594.8 562.3 L596.5 562 L598.3 562.3 L600.1 562 L601.9 562.9 L603.6 563.3 L605.4 563.9 L607.2 563.6 L608.9 562.8 L610.7 561.7 L612.5 561.9 L614.3 562.1 L616 561.2 L617.8 561.6 L619.6 561.6 L621.4 563 L623.1 563.5 L624.9 563.7 L626.7 564 L628.5 563.2 L630.2 562.7 L632 562 L633.8 562 L635.5 562.2 L637.3 561.9 L639.1 561.2 L640.9 562.3 L642.6 562.7 L644.4 561.9 L646.2 562.2 L648 562.4 L649.7 562.1 L651.5 563.5 L653.3 563.3 L655 562.1 L656.8 562.4 L658.6 561 L660.4 562 L662.1 562.2 L663.9 562.8 L665.7 561.3 L667.5 563 L669.2 562.2 L671 562.9" fill="none" stroke="#EE2C2C" stroke-width="4.2" stroke-linejoin="round" stroke-opacity="1"/>
<path d="M106.4 187.6 C108.5 188.2 115 191.5 121.9 192.9 L123.3 191.1 C126 190.4 129.5 189.5 132.4 188.6 C132 186.5 132.3 184.3 133.2 183.6 C135.5 183.1 140.5 185.2 143.5 187.2 C148 187.6 152 188.4 154.5 189.3 C160 191 165.5 194.5 169.2 199.3 C169 200.2 168.2 200.8 167.8 201.2 L168.5 202 C166 203.6 162 204.4 157.6 205 C152 206 147 206.6 143 206.6 C142 207.8 140.2 209.2 137.6 209.2 C137 208.4 137.6 207.6 138 207 C136.5 207.1 135 207.3 134.2 207.4 C134 208.8 133.2 210.4 132.2 210.6 C130.8 210 130.4 208.5 130.2 207 C127.6 205.8 124.8 203.4 121.3 200.5 C116 203 111.5 206 108.7 207.5 C108 205 109.5 201 109.6 197.6 C108.8 194.3 106.8 190 106.4 187.6 Z" fill="#000"/>
<text x="125.2" y="200.4" font-family="Liberation Sans" font-weight="bold" font-size="11.5" fill="#88E8D0" stroke="#88E8D0" stroke-width="0.3" textLength="38.6" lengthAdjust="spacingAndGlyphs">Biomass</text>
<g transform="translate(296.5 0)"><path d="M106.4 187.6 C108.5 188.2 115 191.5 121.9 192.9 L123.3 191.1 C126 190.4 129.5 189.5 132.4 188.6 C132 186.5 132.3 184.3 133.2 183.6 C135.5 183.1 140.5 185.2 143.5 187.2 C148 187.6 152 188.4 154.5 189.3 C160 191 165.5 194.5 169.2 199.3 C169 200.2 168.2 200.8 167.8 201.2 L168.5 202 C166 203.6 162 204.4 157.6 205 C152 206 147 206.6 143 206.6 C142 207.8 140.2 209.2 137.6 209.2 C137 208.4 137.6 207.6 138 207 C136.5 207.1 135 207.3 134.2 207.4 C134 208.8 133.2 210.4 132.2 210.6 C130.8 210 130.4 208.5 130.2 207 C127.6 205.8 124.8 203.4 121.3 200.5 C116 203 111.5 206 108.7 207.5 C108 205 109.5 201 109.6 197.6 C108.8 194.3 106.8 190 106.4 187.6 Z" fill="#000"/><text x="125.2" y="200.4" font-family="Liberation Sans" font-weight="bold" font-size="11.5" fill="#88E8D0" stroke="#88E8D0" stroke-width="0.3" textLength="38.6" lengthAdjust="spacingAndGlyphs">Biomass</text></g>
<path d="M108 376 C111 371.5 119 371.2 123 374.5 C126 377 126.5 381 125.5 384 C129.5 384.5 133.5 387.5 134.3 391.5 C134.6 393.5 134 395.5 133.5 396.8 C137.5 398 141.5 403 142.2 408 C142.5 411 140.8 413 138.6 412.5 C135 411.5 131 408.5 128.5 405.5 C127.4 403.5 127.3 401.5 127.6 400.5 C122.5 400.5 118.5 397.5 117.5 393.5 C117.2 392 117.3 390.5 117.8 389.4 C114 389.4 109 387.4 107 383.5 C106 381 106.2 378.5 108 376 Z" fill="#863810" stroke="#6A2A0A" stroke-width="0.7"/>
<g transform="translate(303 0)"><path d="M108 376 C111 371.5 119 371.2 123 374.5 C126 377 126.5 381 125.5 384 C129.5 384.5 133.5 387.5 134.3 391.5 C134.6 393.5 134 395.5 133.5 396.8 C137.5 398 141.5 403 142.2 408 C142.5 411 140.8 413 138.6 412.5 C135 411.5 131 408.5 128.5 405.5 C127.4 403.5 127.3 401.5 127.6 400.5 C122.5 400.5 118.5 397.5 117.5 393.5 C117.2 392 117.3 390.5 117.8 389.4 C114 389.4 109 387.4 107 383.5 C106 381 106.2 378.5 108 376 Z" fill="#863810" stroke="#6A2A0A" stroke-width="0.7"/></g>
<g transform="translate(0 0)"><path d="M119.3 587.5 L117.1 576.4 C119 577.6 121.8 580 123.9 582.6 L122.5 585.5 Z" fill="#1F2C86"/><path d="M133 578 L134.3 570.3 L141.3 570.5 L139.6 575.6 Z" fill="#1F2C86"/><path d="M118.6 578.5 L120.5 585 M120.5 579.5 L121.5 584.5 M135.5 571.5 L135.5 576.5 M137.5 571.5 L137.3 576 M139.3 571.5 L138.8 575.5" stroke="#4E9CB8" stroke-width="0.45" fill="none"/><path d="M108 601.5 C109.5 598.5 111.5 595.8 113.6 593.6 C116 591 118 588.8 120.6 586.6 C123.5 584.2 126.5 582.1 129.4 580.2 C132.5 578.3 135.5 576.7 138.7 575.2 C141.2 574 143.7 573 146 572 L150.7 569.8 C151.6 567 153 561.5 155.3 555.5 C156.8 558.8 158.8 561.3 160.4 562.8 C163.2 565.4 166.5 567.8 169.6 570.9 C165.5 570.3 161 570.3 157.7 570.6 C155.5 571 154 571.8 152.4 573.6 C151 577 149.6 584 147.2 589.5 C145 593 142.3 595.2 140.6 597.5 C140.2 599.5 140.1 601.8 139.7 603.9 C136 603.4 132.5 603.2 129.4 603.5 C125.5 603.9 121.5 604.2 117.7 604.3 C114.5 604.5 111 604.2 108.5 603.7 C107.8 603.1 107.7 602.3 108 601.5 Z" fill="#1F2C86"/><path d="M113.6 593.6 C116 591 118 588.8 120.6 586.6 C123.5 584.2 126.5 582.1 129.4 580.2 C132.5 578.3 135.5 576.7 138.7 575.2 C141.2 574 143.7 573 146 572 L150.7 569.8 L152.3 573.3 C148.8 574.8 145.3 576.4 141.4 578.9 C137.9 580.9 134.9 582.9 132.7 584.6 C129.4 586.9 126.4 588.6 123.9 590.3 C121.4 592.1 118.9 594.1 116.9 595.7 Z" fill="#7C9CE3"/><path d="M111.9 601.1h4.6M114.2 598.8v4.6" stroke="#F2F4FA" stroke-width="0.95"/><path d="M117 595 C118 598 119.5 601 121.5 603.5" stroke="#2F5FA0" stroke-width="0.5" fill="none"/><path d="M125.3 597.8 C131 592.5 137 587 143.5 582.5 M128 601.5 C133 598 137.5 594.5 141 590.5 M131 603 C135 600.5 138 598 140.2 595.5 M156.5 560 L157 569 M159 563 L158 569.3 M162 565.5 L159 569.6 M165 567.5 L160 569.9 M154.5 563 L155 569.5" stroke="#4E9CB8" stroke-width="0.45" fill="none"/></g>
<g transform="translate(296.5 0)"><path d="M119.3 587.5 L117.1 576.4 C119 577.6 121.8 580 123.9 582.6 L122.5 585.5 Z" fill="#1F2C86"/><path d="M133 578 L134.3 570.3 L141.3 570.5 L139.6 575.6 Z" fill="#1F2C86"/><path d="M118.6 578.5 L120.5 585 M120.5 579.5 L121.5 584.5 M135.5 571.5 L135.5 576.5 M137.5 571.5 L137.3 576 M139.3 571.5 L138.8 575.5" stroke="#4E9CB8" stroke-width="0.45" fill="none"/><path d="M108 601.5 C109.5 598.5 111.5 595.8 113.6 593.6 C116 591 118 588.8 120.6 586.6 C123.5 584.2 126.5 582.1 129.4 580.2 C132.5 578.3 135.5 576.7 138.7 575.2 C141.2 574 143.7 573 146 572 L150.7 569.8 C151.6 567 153 561.5 155.3 555.5 C156.8 558.8 158.8 561.3 160.4 562.8 C163.2 565.4 166.5 567.8 169.6 570.9 C165.5 570.3 161 570.3 157.7 570.6 C155.5 571 154 571.8 152.4 573.6 C151 577 149.6 584 147.2 589.5 C145 593 142.3 595.2 140.6 597.5 C140.2 599.5 140.1 601.8 139.7 603.9 C136 603.4 132.5 603.2 129.4 603.5 C125.5 603.9 121.5 604.2 117.7 604.3 C114.5 604.5 111 604.2 108.5 603.7 C107.8 603.1 107.7 602.3 108 601.5 Z" fill="#1F2C86"/><path d="M113.6 593.6 C116 591 118 588.8 120.6 586.6 C123.5 584.2 126.5 582.1 129.4 580.2 C132.5 578.3 135.5 576.7 138.7 575.2 C141.2 574 143.7 573 146 572 L150.7 569.8 L152.3 573.3 C148.8 574.8 145.3 576.4 141.4 578.9 C137.9 580.9 134.9 582.9 132.7 584.6 C129.4 586.9 126.4 588.6 123.9 590.3 C121.4 592.1 118.9 594.1 116.9 595.7 Z" fill="#7C9CE3"/><path d="M111.9 601.1h4.6M114.2 598.8v4.6" stroke="#F2F4FA" stroke-width="0.95"/><path d="M117 595 C118 598 119.5 601 121.5 603.5" stroke="#2F5FA0" stroke-width="0.5" fill="none"/><path d="M125.3 597.8 C131 592.5 137 587 143.5 582.5 M128 601.5 C133 598 137.5 594.5 141 590.5 M131 603 C135 600.5 138 598 140.2 595.5 M156.5 560 L157 569 M159 563 L158 569.3 M162 565.5 L159 569.6 M165 567.5 L160 569.9 M154.5 563 L155 569.5" stroke="#4E9CB8" stroke-width="0.45" fill="none"/></g>
<text x="95.1" y="58" font-family="Liberation Sans" font-weight="bold" font-size="24.6" fill="#000">a</text>
<rect x="90.5" y="39.1" width="289.9" height="182.8" fill="none" stroke="#333" stroke-width="1.3"/>
<text x="399.4" y="58" font-family="Liberation Sans" font-weight="bold" font-size="24.6" fill="#000">b</text>
<rect x="393.6" y="39.1" width="289.9" height="182.8" fill="none" stroke="#333" stroke-width="1.3"/>
<text x="95.1" y="254.1" font-family="Liberation Sans" font-weight="bold" font-size="24.6" fill="#000">c</text>
<rect x="90.5" y="235.2" width="289.9" height="182.8" fill="none" stroke="#333" stroke-width="1.3"/>
<text x="399.4" y="254.1" font-family="Liberation Sans" font-weight="bold" font-size="24.6" fill="#000">d</text>
<rect x="393.6" y="235.2" width="289.9" height="182.8" fill="none" stroke="#333" stroke-width="1.3"/>
<text x="95.1" y="450.1" font-family="Liberation Sans" font-weight="bold" font-size="24.6" fill="#000">e</text>
<rect x="90.5" y="431.2" width="289.9" height="182.8" fill="none" stroke="#333" stroke-width="1.3"/>
<text x="399.4" y="450.1" font-family="Liberation Sans" font-weight="bold" font-size="24.6" fill="#000">f</text>
<rect x="393.6" y="431.2" width="289.9" height="182.8" fill="none" stroke="#333" stroke-width="1.3"/>
<path d="M83.8 62.9H90.5" stroke="#333" stroke-width="2"/>
<text x="79.2" y="72.2" text-anchor="end" font-family="Liberation Sans" font-size="24.3" fill="#4D4D4D">0</text>
<path d="M83.8 102.9H90.5" stroke="#333" stroke-width="2"/>
<text x="79.2" y="112.2" text-anchor="end" font-family="Liberation Sans" font-size="24.3" fill="#4D4D4D">-25</text>
<path d="M83.8 142.9H90.5" stroke="#333" stroke-width="2"/>
<text x="79.2" y="152.2" text-anchor="end" font-family="Liberation Sans" font-size="24.3" fill="#4D4D4D">-50</text>
<path d="M83.8 182.9H90.5" stroke="#333" stroke-width="2"/>
<text x="79.2" y="192.2" text-anchor="end" font-family="Liberation Sans" font-size="24.3" fill="#4D4D4D">-75</text>
<path d="M83.8 258.8H90.5" stroke="#333" stroke-width="2"/>
<text x="79.2" y="268.1" text-anchor="end" font-family="Liberation Sans" font-size="24.3" fill="#4D4D4D">0</text>
<path d="M83.8 298.8H90.5" stroke="#333" stroke-width="2"/>
<text x="79.2" y="308.1" text-anchor="end" font-family="Liberation Sans" font-size="24.3" fill="#4D4D4D">-25</text>
<path d="M83.8 338.8H90.5" stroke="#333" stroke-width="2"/>
<text x="79.2" y="348.1" text-anchor="end" font-family="Liberation Sans" font-size="24.3" fill="#4D4D4D">-50</text>
<path d="M83.8 378.8H90.5" stroke="#333" stroke-width="2"/>
<text x="79.2" y="388.1" text-anchor="end" font-family="Liberation Sans" font-size="24.3" fill="#4D4D4D">-75</text>
<path d="M83.8 454.7H90.5" stroke="#333" stroke-width="2"/>
<text x="79.2" y="464" text-anchor="end" font-family="Liberation Sans" font-size="24.3" fill="#4D4D4D">0</text>
<path d="M83.8 494.7H90.5" stroke="#333" stroke-width="2"/>
<text x="79.2" y="504" text-anchor="end" font-family="Liberation Sans" font-size="24.3" fill="#4D4D4D">-25</text>
<path d="M83.8 534.7H90.5" stroke="#333" stroke-width="2"/>
<text x="79.2" y="544" text-anchor="end" font-family="Liberation Sans" font-size="24.3" fill="#4D4D4D">-50</text>
<path d="M83.8 574.7H90.5" stroke="#333" stroke-width="2"/>
<text x="79.2" y="584" text-anchor="end" font-family="Liberation Sans" font-size="24.3" fill="#4D4D4D">-75</text>
<path d="M102.8 614.2V620.3" stroke="#333" stroke-width="2"/>
<text transform="translate(114.7 631.1) rotate(-45)" text-anchor="end" font-family="Liberation Sans" font-size="17.5" fill="#4D4D4D">1950</text>
<path d="M129.3 614.2V620.3" stroke="#333" stroke-width="2"/>
<text transform="translate(141.2 631.1) rotate(-45)" text-anchor="end" font-family="Liberation Sans" font-size="17.5" fill="#4D4D4D">1965</text>
<path d="M155.8 614.2V620.3" stroke="#333" stroke-width="2"/>
<text transform="translate(167.7 631.1) rotate(-45)" text-anchor="end" font-family="Liberation Sans" font-size="17.5" fill="#4D4D4D">1980</text>
<path d="M182.3 614.2V620.3" stroke="#333" stroke-width="2"/>
<text transform="translate(194.2 631.1) rotate(-45)" text-anchor="end" font-family="Liberation Sans" font-size="17.5" fill="#4D4D4D">1995</text>
<path d="M208.8 614.2V620.3" stroke="#333" stroke-width="2"/>
<text transform="translate(220.7 631.1) rotate(-45)" text-anchor="end" font-family="Liberation Sans" font-size="17.5" fill="#4D4D4D">2010</text>
<path d="M235.3 614.2V620.3" stroke="#333" stroke-width="2"/>
<text transform="translate(247.2 631.1) rotate(-45)" text-anchor="end" font-family="Liberation Sans" font-size="17.5" fill="#4D4D4D">2025</text>
<path d="M261.8 614.2V620.3" stroke="#333" stroke-width="2"/>
<text transform="translate(273.7 631.1) rotate(-45)" text-anchor="end" font-family="Liberation Sans" font-size="17.5" fill="#4D4D4D">2040</text>
<path d="M288.3 614.2V620.3" stroke="#333" stroke-width="2"/>
<text transform="translate(300.2 631.1) rotate(-45)" text-anchor="end" font-family="Liberation Sans" font-size="17.5" fill="#4D4D4D">2055</text>
<path d="M314.8 614.2V620.3" stroke="#333" stroke-width="2"/>
<text transform="translate(326.7 631.1) rotate(-45)" text-anchor="end" font-family="Liberation Sans" font-size="17.5" fill="#4D4D4D">2070</text>
<path d="M341.3 614.2V620.3" stroke="#333" stroke-width="2"/>
<text transform="translate(353.2 631.1) rotate(-45)" text-anchor="end" font-family="Liberation Sans" font-size="17.5" fill="#4D4D4D">2085</text>
<path d="M367.8 614.2V620.3" stroke="#333" stroke-width="2"/>
<text transform="translate(379.7 631.1) rotate(-45)" text-anchor="end" font-family="Liberation Sans" font-size="17.5" fill="#4D4D4D">2100</text>
<path d="M406 614.2V620.3" stroke="#333" stroke-width="2"/>
<text transform="translate(417.9 631.1) rotate(-45)" text-anchor="end" font-family="Liberation Sans" font-size="17.5" fill="#4D4D4D">1950</text>
<path d="M432.5 614.2V620.3" stroke="#333" stroke-width="2"/>
<text transform="translate(444.4 631.1) rotate(-45)" text-anchor="end" font-family="Liberation Sans" font-size="17.5" fill="#4D4D4D">1965</text>
<path d="M459 614.2V620.3" stroke="#333" stroke-width="2"/>
<text transform="translate(470.9 631.1) rotate(-45)" text-anchor="end" font-family="Liberation Sans" font-size="17.5" fill="#4D4D4D">1980</text>
<path d="M485.5 614.2V620.3" stroke="#333" stroke-width="2"/>
<text transform="translate(497.4 631.1) rotate(-45)" text-anchor="end" font-family="Liberation Sans" font-size="17.5" fill="#4D4D4D">1995</text>
<path d="M512 614.2V620.3" stroke="#333" stroke-width="2"/>
<text transform="translate(523.9 631.1) rotate(-45)" text-anchor="end" font-family="Liberation Sans" font-size="17.5" fill="#4D4D4D">2010</text>
<path d="M538.5 614.2V620.3" stroke="#333" stroke-width="2"/>
<text transform="translate(550.4 631.1) rotate(-45)" text-anchor="end" font-family="Liberation Sans" font-size="17.5" fill="#4D4D4D">2025</text>
<path d="M565 614.2V620.3" stroke="#333" stroke-width="2"/>
<text transform="translate(576.9 631.1) rotate(-45)" text-anchor="end" font-family="Liberation Sans" font-size="17.5" fill="#4D4D4D">2040</text>
<path d="M591.5 614.2V620.3" stroke="#333" stroke-width="2"/>
<text transform="translate(603.4 631.1) rotate(-45)" text-anchor="end" font-family="Liberation Sans" font-size="17.5" fill="#4D4D4D">2055</text>
<path d="M618 614.2V620.3" stroke="#333" stroke-width="2"/>
<text transform="translate(629.9 631.1) rotate(-45)" text-anchor="end" font-family="Liberation Sans" font-size="17.5" fill="#4D4D4D">2070</text>
<path d="M644.5 614.2V620.3" stroke="#333" stroke-width="2"/>
<text transform="translate(656.4 631.1) rotate(-45)" text-anchor="end" font-family="Liberation Sans" font-size="17.5" fill="#4D4D4D">2085</text>
<path d="M671 614.2V620.3" stroke="#333" stroke-width="2"/>
<text transform="translate(682.9 631.1) rotate(-45)" text-anchor="end" font-family="Liberation Sans" font-size="17.5" fill="#4D4D4D">2100</text>
<text x="235.5" y="25.6" text-anchor="middle" font-family="Liberation Sans" font-size="33.6" fill="#1A1A1A">No fishing</text>
<text x="538.5" y="25.6" text-anchor="middle" font-family="Liberation Sans" font-size="33.6" fill="#1A1A1A">Fishing</text>
<text transform="translate(25.9 326.2) rotate(-90) scale(1 1.06)" text-anchor="middle" font-family="Liberation Sans" font-size="32.8" fill="#1A1A1A">% change</text>
<rect x="121.5" y="700.8" width="35.8" height="36" fill="#F0F0F0" stroke="#8C8C8C" stroke-width="1.4"/>
<path d="M124.5 718.9H154.7" stroke="#808080" stroke-width="3.8"/>
<text x="170.6" y="728.3" font-family="Liberation Sans" font-size="26.2" fill="#1A1A1A">Historical</text>
<rect x="291.2" y="700.8" width="36" height="36.4" fill="#E8F2FC" stroke="#66A3F5" stroke-width="1.5"/>
<path d="M293.9 719.1H324.2" stroke="#4A8FF0" stroke-width="3.8"/>
<text x="339.3" y="728.3" font-family="Liberation Sans" font-size="26.4" fill="#1A1A1A">SSP 1-2.6</text>
<rect x="478.8" y="700.8" width="35.8" height="36.4" fill="#F6E6E8" stroke="#EE3838" stroke-width="1.5"/>
<path d="M481.5 719.1H512" stroke="#EE2C2C" stroke-width="3.8"/>
<text x="526.8" y="728.3" font-family="Liberation Sans" font-size="26.4" fill="#1A1A1A">SSP 5-8.5</text>
</svg>
</body></html>
